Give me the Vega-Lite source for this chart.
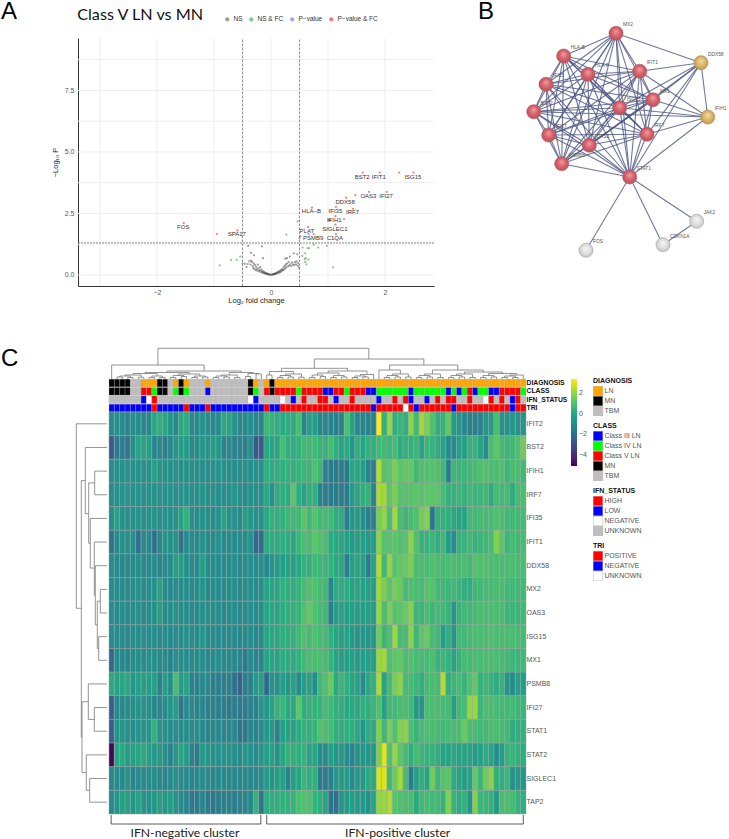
{"$schema":"https://vega.github.io/schema/vega-lite/v6.json","padding":0,"autosize":{"type":"pad"},"background":"white","spacing":42,"config":{"view":{"stroke":null},"font":"Liberation Sans"},
"datasets":{
"nodes":[{"id":"MX2","x":616,"y":32.3,"k":"r"},{"id":"HLA-B","x":563.7,"y":55,"k":"r"},{"id":"HLA-F","x":588,"y":73.3,"k":"r"},{"id":"IFIT1","x":639.7,"y":70.3,"k":"r"},{"id":"DDX58","x":701,"y":61.7,"k":"y"},{"id":"IFI35","x":546,"y":83.3,"k":"r"},{"id":"BST2","x":533.7,"y":110.7,"k":"r"},{"id":"ISG15","x":619.7,"y":106.7,"k":"r"},{"id":"MX1","x":653,"y":98.7,"k":"r"},{"id":"IFIH1","x":707.7,"y":116,"k":"y"},{"id":"IRF7","x":647,"y":133.3,"k":"r"},{"id":"IFI27","x":548.7,"y":134,"k":"r"},{"id":"OAS3","x":589.3,"y":144.3,"k":"r"},{"id":"PSMB8","x":561.7,"y":162.7,"k":"r"},{"id":"STAT1","x":629.7,"y":176,"k":"r"},{"id":"JAK2","x":696.7,"y":220.3,"k":"w"},{"id":"CDKN1A","x":663,"y":243.7,"k":"w"},{"id":"FOS","x":586,"y":249.3,"k":"w"}],
"edges":[{"s":"MX2","t":"HLA-B"},{"s":"MX2","t":"HLA-F"},{"s":"MX2","t":"IFIT1"},{"s":"MX2","t":"IFI35"},{"s":"MX2","t":"BST2"},{"s":"MX2","t":"ISG15"},{"s":"MX2","t":"MX1"},{"s":"MX2","t":"IRF7"},{"s":"MX2","t":"IFI27"},{"s":"MX2","t":"OAS3"},{"s":"MX2","t":"PSMB8"},{"s":"MX2","t":"STAT1"},{"s":"MX2","t":"DDX58"},{"s":"HLA-B","t":"HLA-F"},{"s":"HLA-B","t":"IFIT1"},{"s":"HLA-B","t":"IFI35"},{"s":"HLA-B","t":"BST2"},{"s":"HLA-B","t":"ISG15"},{"s":"HLA-B","t":"MX1"},{"s":"HLA-B","t":"IRF7"},{"s":"HLA-B","t":"IFI27"},{"s":"HLA-B","t":"OAS3"},{"s":"HLA-B","t":"PSMB8"},{"s":"HLA-B","t":"STAT1"},{"s":"HLA-F","t":"IFIT1"},{"s":"HLA-F","t":"IFI35"},{"s":"HLA-F","t":"BST2"},{"s":"HLA-F","t":"ISG15"},{"s":"HLA-F","t":"MX1"},{"s":"HLA-F","t":"IRF7"},{"s":"HLA-F","t":"IFI27"},{"s":"HLA-F","t":"OAS3"},{"s":"HLA-F","t":"PSMB8"},{"s":"HLA-F","t":"STAT1"},{"s":"IFIT1","t":"IFI35"},{"s":"IFIT1","t":"BST2"},{"s":"IFIT1","t":"ISG15"},{"s":"IFIT1","t":"MX1"},{"s":"IFIT1","t":"IRF7"},{"s":"IFIT1","t":"IFI27"},{"s":"IFIT1","t":"OAS3"},{"s":"IFIT1","t":"PSMB8"},{"s":"IFIT1","t":"STAT1"},{"s":"IFIT1","t":"DDX58"},{"s":"IFIT1","t":"IFIH1"},{"s":"IFI35","t":"BST2"},{"s":"IFI35","t":"ISG15"},{"s":"IFI35","t":"MX1"},{"s":"IFI35","t":"IRF7"},{"s":"IFI35","t":"IFI27"},{"s":"IFI35","t":"OAS3"},{"s":"IFI35","t":"PSMB8"},{"s":"IFI35","t":"STAT1"},{"s":"BST2","t":"ISG15"},{"s":"BST2","t":"MX1"},{"s":"BST2","t":"IRF7"},{"s":"BST2","t":"IFI27"},{"s":"BST2","t":"OAS3"},{"s":"BST2","t":"PSMB8"},{"s":"BST2","t":"STAT1"},{"s":"BST2","t":"IFIH1"},{"s":"ISG15","t":"MX1"},{"s":"ISG15","t":"IRF7"},{"s":"ISG15","t":"IFI27"},{"s":"ISG15","t":"OAS3"},{"s":"ISG15","t":"PSMB8"},{"s":"ISG15","t":"STAT1"},{"s":"ISG15","t":"DDX58"},{"s":"ISG15","t":"IFIH1"},{"s":"MX1","t":"IRF7"},{"s":"MX1","t":"IFI27"},{"s":"MX1","t":"OAS3"},{"s":"MX1","t":"PSMB8"},{"s":"MX1","t":"STAT1"},{"s":"MX1","t":"DDX58"},{"s":"MX1","t":"IFIH1"},{"s":"IRF7","t":"IFI27"},{"s":"IRF7","t":"OAS3"},{"s":"IRF7","t":"PSMB8"},{"s":"IRF7","t":"STAT1"},{"s":"IRF7","t":"DDX58"},{"s":"IRF7","t":"IFIH1"},{"s":"IFI27","t":"OAS3"},{"s":"IFI27","t":"PSMB8"},{"s":"IFI27","t":"STAT1"},{"s":"OAS3","t":"PSMB8"},{"s":"OAS3","t":"STAT1"},{"s":"OAS3","t":"DDX58"},{"s":"PSMB8","t":"STAT1"},{"s":"STAT1","t":"DDX58"},{"s":"STAT1","t":"IFIH1"},{"s":"DDX58","t":"IFIH1"},{"s":"STAT1","t":"JAK2"},{"s":"STAT1","t":"CDKN1A"},{"s":"STAT1","t":"FOS"},{"s":"JAK2","t":"CDKN1A"}],
"genes":[{"t":"FOS","x":-1.54,"y":1.93},{"t":"SPA17","x":-0.6,"y":1.65},{"t":"BST2","x":1.6,"y":3.99},{"t":"IFIT1","x":1.89,"y":3.99},{"t":"ISG15","x":2.49,"y":3.99},{"t":"OAS3","x":1.71,"y":3.22},{"t":"IFI27","x":2.02,"y":3.22},{"t":"DDX58","x":1.3,"y":2.97},{"t":"HLA−B","x":0.71,"y":2.59},{"t":"IFI35","x":1.13,"y":2.61},{"t":"IRF7","x":1.43,"y":2.54},{"t":"IFIH1","x":1.11,"y":2.23},{"t":"SIGLEC1","x":1.12,"y":1.88},{"t":"PLAT","x":0.63,"y":1.77},{"t":"PSMB9","x":0.74,"y":1.5},{"t":"C1QA","x":1.12,"y":1.5}],
"pts":[{"x":-1.53,"y":2.11,"k":"P−value & FC"},{"x":-0.95,"y":1.66,"k":"P−value & FC"},{"x":-0.59,"y":1.81,"k":"P−value & FC"},{"x":1.61,"y":4.16,"k":"P−value & FC"},{"x":1.91,"y":4.16,"k":"P−value & FC"},{"x":2.25,"y":4.16,"k":"P−value & FC"},{"x":2.5,"y":4.16,"k":"P−value & FC"},{"x":1.72,"y":3.38,"k":"P−value & FC"},{"x":2.03,"y":3.38,"k":"P−value & FC"},{"x":1.48,"y":3.24,"k":"P−value & FC"},{"x":1.32,"y":3.14,"k":"P−value & FC"},{"x":1.14,"y":2.77,"k":"P−value & FC"},{"x":0.72,"y":2.74,"k":"P−value & FC"},{"x":1.44,"y":2.69,"k":"P−value & FC"},{"x":1.13,"y":2.39,"k":"P−value & FC"},{"x":1.28,"y":2.27,"k":"P−value & FC"},{"x":1.01,"y":2.23,"k":"P−value & FC"},{"x":1.04,"y":2.23,"k":"P−value & FC"},{"x":1.13,"y":2.04,"k":"P−value & FC"},{"x":0.65,"y":1.95,"k":"P−value & FC"},{"x":0.66,"y":1.66,"k":"P−value & FC"},{"x":0.75,"y":1.66,"k":"P−value & FC"},{"x":1.14,"y":1.66,"k":"P−value & FC"},{"x":0.515,"y":1.58,"k":"P−value & FC"},
{"x":0.47,"y":2.18,"k":"P−value"},{"x":0.27,"y":1.64,"k":"P−value"},{"x":0.5,"y":1.5,"k":"P−value"},
{"x":0.555,"y":1.11,"k":"NS & FC"},{"x":0.64,"y":1.09,"k":"NS & FC"},{"x":0.67,"y":1.08,"k":"NS & FC"},{"x":0.75,"y":1.23,"k":"NS & FC"},{"x":0.83,"y":1.11,"k":"NS & FC"},{"x":0.98,"y":1.18,"k":"NS & FC"},{"x":0.55,"y":0.77,"k":"NS & FC"},{"x":0.6,"y":0.88,"k":"NS & FC"},{"x":0.59,"y":0.64,"k":"NS & FC"},{"x":0.61,"y":0.68,"k":"NS & FC"},{"x":0.66,"y":0.62,"k":"NS & FC"},{"x":0.6,"y":0.53,"k":"NS & FC"},{"x":0.62,"y":0.43,"k":"NS & FC"},{"x":1.09,"y":0.31,"k":"NS & FC"},{"x":-0.9,"y":0.39,"k":"NS & FC"},{"x":-0.7,"y":0.61,"k":"NS & FC"},{"x":-0.6,"y":0.61,"k":"NS & FC"},{"x":-0.54,"y":0.74,"k":"NS & FC"},{"x":-0.5,"y":0.47,"k":"NS & FC"},
{"x":-0.4,"y":1.18,"k":"NS"},{"x":-0.16,"y":1.16,"k":"NS"},{"x":-0.35,"y":0.9,"k":"NS"},{"x":-0.3,"y":0.8,"k":"NS"},{"x":-0.14,"y":0.68,"k":"NS"},{"x":0.33,"y":0.74,"k":"NS"},{"x":0.4,"y":0.88,"k":"NS"},{"x":0.46,"y":0.84,"k":"NS"},{"x":0.25,"y":0.66,"k":"NS"},{"x":0.28,"y":0.68,"k":"NS"},{"x":-0.46,"y":0.45,"k":"NS"},{"x":-0.43,"y":0.32,"k":"NS"},{"x":-0.41,"y":0.44,"k":"NS"},{"x":-0.38,"y":0.55,"k":"NS"},{"x":-0.36,"y":0.42,"k":"NS"},{"x":-0.35,"y":0.58,"k":"NS"},{"x":-0.33,"y":0.52,"k":"NS"},{"x":-0.32,"y":0.36,"k":"NS"},{"x":-0.31,"y":0.28,"k":"NS"},{"x":-0.3,"y":0.46,"k":"NS"},{"x":-0.29,"y":0.25,"k":"NS"},{"x":-0.28,"y":0.4,"k":"NS"},{"x":-0.27,"y":0.19,"k":"NS"},{"x":-0.26,"y":0.33,"k":"NS"},{"x":-0.25,"y":0.24,"k":"NS"},{"x":-0.24,"y":0.17,"k":"NS"},{"x":-0.23,"y":0.42,"k":"NS"},{"x":-0.22,"y":0.27,"k":"NS"},{"x":-0.21,"y":0.14,"k":"NS"},{"x":-0.2,"y":0.2,"k":"NS"},{"x":-0.19,"y":0.32,"k":"NS"},{"x":-0.18,"y":0.13,"k":"NS"},{"x":-0.17,"y":0.22,"k":"NS"},{"x":-0.16,"y":0.1,"k":"NS"},{"x":-0.15,"y":0.16,"k":"NS"},{"x":-0.14,"y":0.09,"k":"NS"},{"x":-0.13,"y":0.13,"k":"NS"},{"x":-0.12,"y":0.07,"k":"NS"},{"x":-0.11,"y":0.1,"k":"NS"},{"x":-0.1,"y":0.06,"k":"NS"},{"x":-0.09,"y":0.05,"k":"NS"},{"x":-0.08,"y":0.07,"k":"NS"},{"x":-0.07,"y":0.04,"k":"NS"},{"x":-0.06,"y":0.03,"k":"NS"},{"x":-0.05,"y":0.04,"k":"NS"},{"x":-0.04,"y":0.02,"k":"NS"},{"x":-0.03,"y":0.01,"k":"NS"},{"x":-0.02,"y":0.01,"k":"NS"},{"x":0,"y":0.01,"k":"NS"},{"x":0.02,"y":0.01,"k":"NS"},{"x":0.03,"y":0.02,"k":"NS"},{"x":0.04,"y":0.03,"k":"NS"},{"x":0.05,"y":0.02,"k":"NS"},{"x":0.06,"y":0.04,"k":"NS"},{"x":0.07,"y":0.05,"k":"NS"},{"x":0.08,"y":0.04,"k":"NS"},{"x":0.09,"y":0.07,"k":"NS"},{"x":0.1,"y":0.06,"k":"NS"},{"x":0.11,"y":0.09,"k":"NS"},{"x":0.12,"y":0.12,"k":"NS"},{"x":0.13,"y":0.08,"k":"NS"},{"x":0.14,"y":0.14,"k":"NS"},{"x":0.15,"y":0.1,"k":"NS"},{"x":0.16,"y":0.18,"k":"NS"},{"x":0.17,"y":0.12,"k":"NS"},{"x":0.18,"y":0.21,"k":"NS"},{"x":0.19,"y":0.16,"k":"NS"},{"x":0.2,"y":0.24,"k":"NS"},{"x":0.21,"y":0.19,"k":"NS"},{"x":0.22,"y":0.31,"k":"NS"},{"x":0.23,"y":0.22,"k":"NS"},{"x":0.24,"y":0.37,"k":"NS"},{"x":0.25,"y":0.27,"k":"NS"},{"x":0.26,"y":0.42,"k":"NS"},{"x":0.27,"y":0.31,"k":"NS"},{"x":0.28,"y":0.46,"k":"NS"},{"x":0.3,"y":0.35,"k":"NS"},{"x":0.31,"y":0.52,"k":"NS"},{"x":0.32,"y":0.38,"k":"NS"},{"x":0.34,"y":0.43,"k":"NS"},{"x":0.36,"y":0.36,"k":"NS"},{"x":0.37,"y":0.5,"k":"NS"},{"x":0.39,"y":0.42,"k":"NS"},{"x":0.41,"y":0.4,"k":"NS"},{"x":0.42,"y":0.52,"k":"NS"},{"x":0.44,"y":0.43,"k":"NS"},{"x":0.45,"y":0.55,"k":"NS"},{"x":0.47,"y":0.38,"k":"NS"},{"x":0.48,"y":0.48,"k":"NS"},{"x":0.49,"y":0.3,"k":"NS"}],
"top":[{"a":1.5,"b":2.5,"h":2,"ha":0,"hb":0},{"a":3.5,"b":4.5,"h":1.5,"ha":0,"hb":0},{"a":2,"b":4,"h":3,"ha":2,"hb":1.5},{"a":5.5,"b":6.5,"h":1.8,"ha":0,"hb":0},{"a":3,"b":6,"h":4,"ha":3,"hb":1.8},{"a":7.5,"b":8.5,"h":1.5,"ha":0,"hb":0},{"a":9.5,"b":10.5,"h":1.5,"ha":0,"hb":0},{"a":8,"b":10,"h":3,"ha":1.5,"hb":1.5},{"a":4.5,"b":9,"h":5.5,"ha":4,"hb":3},{"a":11.5,"b":12.5,"h":1.5,"ha":0,"hb":0},{"a":13.5,"b":14.5,"h":2.5,"ha":0,"hb":0},{"a":12,"b":14,"h":3.5,"ha":1.5,"hb":2.5},{"a":15.5,"b":16.5,"h":1.5,"ha":0,"hb":0},{"a":17.5,"b":18.5,"h":2,"ha":0,"hb":0},{"a":16,"b":18,"h":3,"ha":1.5,"hb":2},{"a":13,"b":17,"h":5,"ha":3.5,"hb":3},{"a":6.75,"b":15,"h":6.5,"ha":5.5,"hb":5},{"a":19.5,"b":20.5,"h":1.5,"ha":0,"hb":0},{"a":21.5,"b":22.5,"h":2,"ha":0,"hb":0},{"a":20,"b":22,"h":3,"ha":1.5,"hb":2},{"a":23.5,"b":24.5,"h":1.5,"ha":0,"hb":0},{"a":21,"b":24,"h":4,"ha":3,"hb":1.5},{"a":25.5,"b":26.5,"h":2.5,"ha":0,"hb":0},{"a":27.5,"b":28.5,"h":5,"ha":0,"hb":0},{"a":26,"b":28,"h":5.5,"ha":2.5,"hb":5},{"a":22.5,"b":27,"h":6.5,"ha":4,"hb":5.5},{"a":10.9,"b":24.75,"h":8,"ha":6.5,"hb":6.5},{"a":0.5,"b":17.8,"h":14,"ha":0,"hb":8},{"a":29.5,"b":30.5,"h":4,"ha":0,"hb":0},{"a":31.5,"b":32.5,"h":1.5,"ha":0,"hb":0},{"a":33.5,"b":34.5,"h":2,"ha":0,"hb":0},{"a":32,"b":34,"h":3.5,"ha":1.5,"hb":2},{"a":35.5,"b":36.5,"h":1.8,"ha":0,"hb":0},{"a":33,"b":36,"h":5,"ha":3.5,"hb":1.8},{"a":30,"b":34.5,"h":7.5,"ha":4,"hb":5},{"a":37.5,"b":38.5,"h":1.5,"ha":0,"hb":0},{"a":39.5,"b":40.5,"h":2.5,"ha":0,"hb":0},{"a":38,"b":40,"h":4,"ha":1.5,"hb":2.5},{"a":41.5,"b":42.5,"h":1.5,"ha":0,"hb":0},{"a":43.5,"b":44.5,"h":2,"ha":0,"hb":0},{"a":42,"b":44,"h":3.5,"ha":1.5,"hb":2},{"a":39,"b":43,"h":6,"ha":4,"hb":3.5},{"a":45.5,"b":46.5,"h":1.5,"ha":0,"hb":0},{"a":47.5,"b":48.5,"h":2,"ha":0,"hb":0},{"a":46,"b":48,"h":3,"ha":1.5,"hb":2},{"a":47,"b":49.5,"h":4.5,"ha":3,"hb":0},{"a":41,"b":48.25,"h":8,"ha":6,"hb":4.5},{"a":32.25,"b":44.6,"h":10.7,"ha":7.5,"hb":8},{"a":51.5,"b":52.5,"h":1.5,"ha":0,"hb":0},{"a":53.5,"b":54.5,"h":2,"ha":0,"hb":0},{"a":52,"b":54,"h":3.5,"ha":1.5,"hb":2},{"a":55.5,"b":56.5,"h":2,"ha":0,"hb":0},{"a":53,"b":56,"h":5,"ha":3.5,"hb":2},{"a":50.5,"b":54.5,"h":9,"ha":0,"hb":5},{"a":57.5,"b":58.5,"h":1.5,"ha":0,"hb":0},{"a":59.5,"b":60.5,"h":2,"ha":0,"hb":0},{"a":58,"b":60,"h":3.5,"ha":1.5,"hb":2},{"a":61.5,"b":62.5,"h":1.5,"ha":0,"hb":0},{"a":59,"b":62,"h":5,"ha":3.5,"hb":1.5},{"a":63.5,"b":64.5,"h":1.5,"ha":0,"hb":0},{"a":65.5,"b":66.5,"h":2,"ha":0,"hb":0},{"a":64,"b":66,"h":3.5,"ha":1.5,"hb":2},{"a":67.5,"b":68.5,"h":1.5,"ha":0,"hb":0},{"a":65,"b":68,"h":5,"ha":3.5,"hb":1.5},{"a":69.5,"b":70.5,"h":1.5,"ha":0,"hb":0},{"a":71.5,"b":72.5,"h":2,"ha":0,"hb":0},{"a":70,"b":72,"h":3.5,"ha":1.5,"hb":2},{"a":73.5,"b":74.5,"h":1.5,"ha":0,"hb":0},{"a":75.5,"b":76.5,"h":1.5,"ha":0,"hb":0},{"a":74,"b":76,"h":3,"ha":1.5,"hb":1.5},{"a":75,"b":77.5,"h":4,"ha":3,"hb":0},{"a":71,"b":76.25,"h":5.5,"ha":3.5,"hb":4},{"a":66.5,"b":73.6,"h":7,"ha":5,"hb":5.5},{"a":60.5,"b":70,"h":9,"ha":5,"hb":7},{"a":52.5,"b":65.25,"h":14,"ha":9,"hb":9},{"a":38.4,"b":58.9,"h":20,"ha":10.7,"hb":14},{"a":9.15,"b":48.6,"h":30.7,"ha":14,"hb":20}],
"left":[{"a":7.5,"b":8.5,"d":6.7,"da":0,"db":0},{"a":9.5,"b":10.5,"d":8.3,"da":0,"db":0},{"a":8,"b":10,"d":9.7,"da":6.7,"db":8.3},{"a":6.5,"b":9,"d":11.7,"da":0,"db":9.7},{"a":5.5,"b":7.75,"d":12.7,"da":0,"db":11.7},{"a":4.5,"b":6.6,"d":16.7,"da":0,"db":12.7},{"a":2.5,"b":3.5,"d":12.3,"da":0,"db":0},{"a":3,"b":5.55,"d":18.3,"da":12.3,"db":16.7},{"a":1.5,"b":4.3,"d":21.7,"da":0,"db":18.3},{"a":12.5,"b":13.5,"d":12.7,"da":0,"db":0},{"a":11.5,"b":13,"d":18.7,"da":0,"db":12.7},{"a":15.5,"b":16.5,"d":17.3,"da":0,"db":0},{"a":14.5,"b":16,"d":20.7,"da":0,"db":17.3},{"a":12.25,"b":15.25,"d":25,"da":18.7,"db":20.7},{"a":2.9,"b":13.75,"d":25.7,"da":21.7,"db":25},{"a":0.5,"b":8.3,"d":30.7,"da":0,"db":25.7}],
"samples":[{"c":0,"D":"MN","C":"MN","I":"UNKNOWN","T":"NEGATIVE"},{"c":1,"D":"MN","C":"MN","I":"UNKNOWN","T":"NEGATIVE"},{"c":2,"D":"MN","C":"MN","I":"UNKNOWN","T":"NEGATIVE"},{"c":3,"D":"MN","C":"MN","I":"UNKNOWN","T":"NEGATIVE"},{"c":4,"D":"TBM","C":"TBM","I":"UNKNOWN","T":"NEGATIVE"},{"c":5,"D":"TBM","C":"TBM","I":"UNKNOWN","T":"NEGATIVE"},{"c":6,"D":"LN","C":"Class V LN","I":"LOW","T":"NEGATIVE"},{"c":7,"D":"LN","C":"Class V LN","I":"NEGATIVE","T":"NEGATIVE"},{"c":8,"D":"LN","C":"Class IV LN","I":"HIGH","T":"POSITIVE"},{"c":9,"D":"MN","C":"MN","I":"UNKNOWN","T":"NEGATIVE"},{"c":10,"D":"MN","C":"MN","I":"UNKNOWN","T":"NEGATIVE"},{"c":11,"D":"TBM","C":"TBM","I":"UNKNOWN","T":"NEGATIVE"},{"c":12,"D":"LN","C":"Class IV LN","I":"UNKNOWN","T":"NEGATIVE"},{"c":13,"D":"MN","C":"MN","I":"UNKNOWN","T":"NEGATIVE"},{"c":14,"D":"LN","C":"Class IV LN","I":"UNKNOWN","T":"POSITIVE"},{"c":15,"D":"TBM","C":"TBM","I":"UNKNOWN","T":"NEGATIVE"},{"c":16,"D":"TBM","C":"TBM","I":"UNKNOWN","T":"NEGATIVE"},{"c":17,"D":"TBM","C":"TBM","I":"UNKNOWN","T":"NEGATIVE"},{"c":18,"D":"LN","C":"Class III LN","I":"UNKNOWN","T":"POSITIVE"},{"c":19,"D":"TBM","C":"TBM","I":"UNKNOWN","T":"NEGATIVE"},{"c":20,"D":"TBM","C":"TBM","I":"UNKNOWN","T":"NEGATIVE"},{"c":21,"D":"TBM","C":"TBM","I":"UNKNOWN","T":"NEGATIVE"},{"c":22,"D":"TBM","C":"TBM","I":"UNKNOWN","T":"NEGATIVE"},{"c":23,"D":"TBM","C":"TBM","I":"UNKNOWN","T":"NEGATIVE"},{"c":24,"D":"TBM","C":"TBM","I":"UNKNOWN","T":"NEGATIVE"},{"c":25,"D":"TBM","C":"TBM","I":"UNKNOWN","T":"NEGATIVE"},{"c":26,"D":"MN","C":"MN","I":"NEGATIVE","T":"NEGATIVE"},{"c":27,"D":"LN","C":"Class IV LN","I":"LOW","T":"NEGATIVE"},{"c":28,"D":"TBM","C":"TBM","I":"UNKNOWN","T":"NEGATIVE"},{"c":29,"D":"LN","C":"Class V LN","I":"UNKNOWN","T":"POSITIVE"},{"c":30,"D":"MN","C":"MN","I":"UNKNOWN","T":"NEGATIVE"},{"c":31,"D":"LN","C":"Class V LN","I":"UNKNOWN","T":"NEGATIVE"},{"c":32,"D":"LN","C":"Class V LN","I":"NEGATIVE","T":"POSITIVE"},{"c":33,"D":"LN","C":"Class V LN","I":"UNKNOWN","T":"POSITIVE"},{"c":34,"D":"LN","C":"Class V LN","I":"LOW","T":"POSITIVE"},{"c":35,"D":"LN","C":"Class IV LN","I":"UNKNOWN","T":"POSITIVE"},{"c":36,"D":"LN","C":"Class V LN","I":"HIGH","T":"POSITIVE"},{"c":37,"D":"LN","C":"Class V LN","I":"UNKNOWN","T":"POSITIVE"},{"c":38,"D":"LN","C":"Class V LN","I":"UNKNOWN","T":"POSITIVE"},{"c":39,"D":"LN","C":"Class V LN","I":"HIGH","T":"POSITIVE"},{"c":40,"D":"LN","C":"Class III LN","I":"HIGH","T":"POSITIVE"},{"c":41,"D":"LN","C":"Class III LN","I":"UNKNOWN","T":"POSITIVE"},{"c":42,"D":"LN","C":"Class V LN","I":"LOW","T":"POSITIVE"},{"c":43,"D":"LN","C":"Class V LN","I":"UNKNOWN","T":"POSITIVE"},{"c":44,"D":"LN","C":"Class IV LN","I":"UNKNOWN","T":"POSITIVE"},{"c":45,"D":"LN","C":"Class V LN","I":"HIGH","T":"POSITIVE"},{"c":46,"D":"LN","C":"Class V LN","I":"UNKNOWN","T":"POSITIVE"},{"c":47,"D":"LN","C":"Class V LN","I":"UNKNOWN","T":"POSITIVE"},{"c":48,"D":"LN","C":"Class III LN","I":"UNKNOWN","T":"POSITIVE"},{"c":49,"D":"LN","C":"Class III LN","I":"UNKNOWN","T":"NEGATIVE"},{"c":50,"D":"LN","C":"Class IV LN","I":"LOW","T":"POSITIVE"},{"c":51,"D":"LN","C":"Class IV LN","I":"UNKNOWN","T":"POSITIVE"},{"c":52,"D":"LN","C":"Class IV LN","I":"UNKNOWN","T":"POSITIVE"},{"c":53,"D":"LN","C":"Class IV LN","I":"HIGH","T":"POSITIVE"},{"c":54,"D":"LN","C":"Class IV LN","I":"UNKNOWN","T":"POSITIVE"},{"c":55,"D":"LN","C":"Class IV LN","I":"HIGH","T":"UNKNOWN"},{"c":56,"D":"LN","C":"Class III LN","I":"LOW","T":"POSITIVE"},{"c":57,"D":"LN","C":"Class IV LN","I":"UNKNOWN","T":"NEGATIVE"},{"c":58,"D":"LN","C":"Class IV LN","I":"UNKNOWN","T":"POSITIVE"},{"c":59,"D":"LN","C":"Class IV LN","I":"LOW","T":"POSITIVE"},{"c":60,"D":"LN","C":"Class IV LN","I":"UNKNOWN","T":"POSITIVE"},{"c":61,"D":"LN","C":"Class IV LN","I":"HIGH","T":"POSITIVE"},{"c":62,"D":"LN","C":"Class IV LN","I":"UNKNOWN","T":"POSITIVE"},{"c":63,"D":"LN","C":"Class III LN","I":"HIGH","T":"POSITIVE"},{"c":64,"D":"LN","C":"Class IV LN","I":"HIGH","T":"NEGATIVE"},{"c":65,"D":"LN","C":"Class III LN","I":"UNKNOWN","T":"POSITIVE"},{"c":66,"D":"LN","C":"Class IV LN","I":"UNKNOWN","T":"POSITIVE"},{"c":67,"D":"LN","C":"Class V LN","I":"HIGH","T":"POSITIVE"},{"c":68,"D":"LN","C":"Class III LN","I":"UNKNOWN","T":"POSITIVE"},{"c":69,"D":"LN","C":"Class IV LN","I":"UNKNOWN","T":"POSITIVE"},{"c":70,"D":"LN","C":"Class IV LN","I":"NEGATIVE","T":"POSITIVE"},{"c":71,"D":"LN","C":"Class III LN","I":"HIGH","T":"POSITIVE"},{"c":72,"D":"LN","C":"Class III LN","I":"UNKNOWN","T":"POSITIVE"},{"c":73,"D":"LN","C":"Class V LN","I":"HIGH","T":"POSITIVE"},{"c":74,"D":"LN","C":"Class V LN","I":"UNKNOWN","T":"POSITIVE"},{"c":75,"D":"LN","C":"Class V LN","I":"LOW","T":"NEGATIVE"},{"c":76,"D":"LN","C":"Class V LN","I":"HIGH","T":"POSITIVE"},{"c":77,"D":"LN","C":"Class IV LN","I":"UNKNOWN","T":"POSITIVE"}],
"heat":[
{"g":"IFIT2","c":0,"v":-1},{"g":"IFIT2","c":1,"v":-0.8},{"g":"IFIT2","c":2,"v":-1},{"g":"IFIT2","c":3,"v":-1.1},{"g":"IFIT2","c":4,"v":-0.9},{"g":"IFIT2","c":5,"v":-0.9},{"g":"IFIT2","c":6,"v":-1.1},{"g":"IFIT2","c":7,"v":-1.1},{"g":"IFIT2","c":8,"v":0.1},{"g":"IFIT2","c":9,"v":0.3},{"g":"IFIT2","c":10,"v":0.1},{"g":"IFIT2","c":11,"v":-0.6},{"g":"IFIT2","c":12,"v":-1},{"g":"IFIT2","c":13,"v":0.1},{"g":"IFIT2","c":14,"v":0.2},{"g":"IFIT2","c":15,"v":-1},{"g":"IFIT2","c":16,"v":-1},{"g":"IFIT2","c":17,"v":-0.7},{"g":"IFIT2","c":18,"v":-0.8},{"g":"IFIT2","c":19,"v":-1},{"g":"IFIT2","c":20,"v":-1},{"g":"IFIT2","c":21,"v":0.1},{"g":"IFIT2","c":22,"v":0},{"g":"IFIT2","c":23,"v":-0.8},{"g":"IFIT2","c":24,"v":-1},{"g":"IFIT2","c":25,"v":-1},{"g":"IFIT2","c":26,"v":-0.9},{"g":"IFIT2","c":27,"v":-1.1},{"g":"IFIT2","c":28,"v":-1.1},{"g":"IFIT2","c":29,"v":0.7},{"g":"IFIT2","c":30,"v":0.5},{"g":"IFIT2","c":31,"v":0.3},{"g":"IFIT2","c":32,"v":0.1},{"g":"IFIT2","c":33,"v":0.2},{"g":"IFIT2","c":34,"v":0.2},{"g":"IFIT2","c":35,"v":0.9},{"g":"IFIT2","c":36,"v":-1.2},{"g":"IFIT2","c":37,"v":-0.2},{"g":"IFIT2","c":38,"v":-0.3},{"g":"IFIT2","c":39,"v":-1.2},{"g":"IFIT2","c":40,"v":-1.1},{"g":"IFIT2","c":41,"v":-1.3},{"g":"IFIT2","c":42,"v":-1.3},{"g":"IFIT2","c":43,"v":-1.3},{"g":"IFIT2","c":44,"v":1},{"g":"IFIT2","c":45,"v":-0.1},{"g":"IFIT2","c":46,"v":-1.1},{"g":"IFIT2","c":47,"v":-1.2},{"g":"IFIT2","c":48,"v":-1.3},{"g":"IFIT2","c":49,"v":-1.3},{"g":"IFIT2","c":50,"v":3.4},{"g":"IFIT2","c":51,"v":0.4},{"g":"IFIT2","c":52,"v":2},{"g":"IFIT2","c":53,"v":0.3},{"g":"IFIT2","c":54,"v":0.6},{"g":"IFIT2","c":55,"v":0.3},{"g":"IFIT2","c":56,"v":1.9},{"g":"IFIT2","c":57,"v":0.7},{"g":"IFIT2","c":58,"v":2.2},{"g":"IFIT2","c":59,"v":1.7},{"g":"IFIT2","c":60,"v":1},{"g":"IFIT2","c":61,"v":0.3},{"g":"IFIT2","c":62,"v":0.5},{"g":"IFIT2","c":63,"v":1.3},{"g":"IFIT2","c":64,"v":-0.4},{"g":"IFIT2","c":65,"v":-0.6},{"g":"IFIT2","c":66,"v":-1.2},{"g":"IFIT2","c":67,"v":-1.3},{"g":"IFIT2","c":68,"v":-1.4},{"g":"IFIT2","c":69,"v":-1.4},{"g":"IFIT2","c":70,"v":-0.5},{"g":"IFIT2","c":71,"v":-0.4},{"g":"IFIT2","c":72,"v":0.9},{"g":"IFIT2","c":73,"v":-0.8},{"g":"IFIT2","c":74,"v":-0.7},{"g":"IFIT2","c":75,"v":-0.5},{"g":"IFIT2","c":76,"v":-0.7},{"g":"IFIT2","c":77,"v":-0.6},
{"g":"BST2","c":0,"v":-2.6},{"g":"BST2","c":1,"v":-1.5},{"g":"BST2","c":2,"v":-1.5},{"g":"BST2","c":3,"v":-1.8},{"g":"BST2","c":4,"v":-0.9},{"g":"BST2","c":5,"v":-0.1},{"g":"BST2","c":6,"v":-0.1},{"g":"BST2","c":7,"v":-0.2},{"g":"BST2","c":8,"v":-1.2},{"g":"BST2","c":9,"v":-1},{"g":"BST2","c":10,"v":-1.4},{"g":"BST2","c":11,"v":-1.1},{"g":"BST2","c":12,"v":-0.5},{"g":"BST2","c":13,"v":-0.3},{"g":"BST2","c":14,"v":-0.4},{"g":"BST2","c":15,"v":-1},{"g":"BST2","c":16,"v":-0.9},{"g":"BST2","c":17,"v":-0.5},{"g":"BST2","c":18,"v":-0.6},{"g":"BST2","c":19,"v":-0.3},{"g":"BST2","c":20,"v":-0.5},{"g":"BST2","c":21,"v":-1.2},{"g":"BST2","c":22,"v":-1},{"g":"BST2","c":23,"v":-1.4},{"g":"BST2","c":24,"v":-1.2},{"g":"BST2","c":25,"v":-1.4},{"g":"BST2","c":26,"v":-0.9},{"g":"BST2","c":27,"v":-2.7},{"g":"BST2","c":28,"v":-2.7},{"g":"BST2","c":29,"v":0.1},{"g":"BST2","c":30,"v":0},{"g":"BST2","c":31,"v":0},{"g":"BST2","c":32,"v":0.8},{"g":"BST2","c":33,"v":0.3},{"g":"BST2","c":34,"v":0.3},{"g":"BST2","c":35,"v":0.4},{"g":"BST2","c":36,"v":0.7},{"g":"BST2","c":37,"v":0.7},{"g":"BST2","c":38,"v":0.7},{"g":"BST2","c":39,"v":0.5},{"g":"BST2","c":40,"v":0.5},{"g":"BST2","c":41,"v":0.8},{"g":"BST2","c":42,"v":0.3},{"g":"BST2","c":43,"v":-0.1},{"g":"BST2","c":44,"v":0.1},{"g":"BST2","c":45,"v":-0.6},{"g":"BST2","c":46,"v":0.3},{"g":"BST2","c":47,"v":0},{"g":"BST2","c":48,"v":0.4},{"g":"BST2","c":49,"v":0.4},{"g":"BST2","c":50,"v":0.7},{"g":"BST2","c":51,"v":0.7},{"g":"BST2","c":52,"v":0.6},{"g":"BST2","c":53,"v":0.8},{"g":"BST2","c":54,"v":0.2},{"g":"BST2","c":55,"v":0.4},{"g":"BST2","c":56,"v":0.4},{"g":"BST2","c":57,"v":0.6},{"g":"BST2","c":58,"v":-0.1},{"g":"BST2","c":59,"v":0.6},{"g":"BST2","c":60,"v":0.5},{"g":"BST2","c":61,"v":0.2},{"g":"BST2","c":62,"v":-0.1},{"g":"BST2","c":63,"v":-1},{"g":"BST2","c":64,"v":-0.9},{"g":"BST2","c":65,"v":-0.2},{"g":"BST2","c":66,"v":-0.3},{"g":"BST2","c":67,"v":0.5},{"g":"BST2","c":68,"v":0.5},{"g":"BST2","c":69,"v":-0.1},{"g":"BST2","c":70,"v":-0.9},{"g":"BST2","c":71,"v":0.8},{"g":"BST2","c":72,"v":1.2},{"g":"BST2","c":73,"v":0.7},{"g":"BST2","c":74,"v":0.6},{"g":"BST2","c":75,"v":0.7},{"g":"BST2","c":76,"v":1},{"g":"BST2","c":77,"v":1.5},
{"g":"IFIH1","c":0,"v":-0.9},{"g":"IFIH1","c":1,"v":-0.8},{"g":"IFIH1","c":2,"v":-0.8},{"g":"IFIH1","c":3,"v":-0.7},{"g":"IFIH1","c":4,"v":-0.8},{"g":"IFIH1","c":5,"v":-0.8},{"g":"IFIH1","c":6,"v":-0.7},{"g":"IFIH1","c":7,"v":-0.8},{"g":"IFIH1","c":8,"v":-0.2},{"g":"IFIH1","c":9,"v":-0.5},{"g":"IFIH1","c":10,"v":-0.7},{"g":"IFIH1","c":11,"v":-0.8},{"g":"IFIH1","c":12,"v":-0.7},{"g":"IFIH1","c":13,"v":-0.8},{"g":"IFIH1","c":14,"v":-0.7},{"g":"IFIH1","c":15,"v":-0.8},{"g":"IFIH1","c":16,"v":-0.8},{"g":"IFIH1","c":17,"v":-0.9},{"g":"IFIH1","c":18,"v":-0.8},{"g":"IFIH1","c":19,"v":-0.8},{"g":"IFIH1","c":20,"v":-0.8},{"g":"IFIH1","c":21,"v":-0.7},{"g":"IFIH1","c":22,"v":-0.8},{"g":"IFIH1","c":23,"v":-0.9},{"g":"IFIH1","c":24,"v":-0.8},{"g":"IFIH1","c":25,"v":-0.8},{"g":"IFIH1","c":26,"v":-0.9},{"g":"IFIH1","c":27,"v":-0.7},{"g":"IFIH1","c":28,"v":-0.8},{"g":"IFIH1","c":29,"v":0.3},{"g":"IFIH1","c":30,"v":0.2},{"g":"IFIH1","c":31,"v":0.3},{"g":"IFIH1","c":32,"v":0.3},{"g":"IFIH1","c":33,"v":0.4},{"g":"IFIH1","c":34,"v":0.4},{"g":"IFIH1","c":35,"v":0.5},{"g":"IFIH1","c":36,"v":0.6},{"g":"IFIH1","c":37,"v":0.6},{"g":"IFIH1","c":38,"v":1},{"g":"IFIH1","c":39,"v":0.6},{"g":"IFIH1","c":40,"v":-1.4},{"g":"IFIH1","c":41,"v":-1.5},{"g":"IFIH1","c":42,"v":-1.5},{"g":"IFIH1","c":43,"v":-1.5},{"g":"IFIH1","c":44,"v":-1.6},{"g":"IFIH1","c":45,"v":0},{"g":"IFIH1","c":46,"v":0},{"g":"IFIH1","c":47,"v":-0.2},{"g":"IFIH1","c":48,"v":-1.3},{"g":"IFIH1","c":49,"v":-1.4},{"g":"IFIH1","c":50,"v":2.4},{"g":"IFIH1","c":51,"v":1.1},{"g":"IFIH1","c":52,"v":1.2},{"g":"IFIH1","c":53,"v":1.6},{"g":"IFIH1","c":54,"v":1.2},{"g":"IFIH1","c":55,"v":1.3},{"g":"IFIH1","c":56,"v":1.3},{"g":"IFIH1","c":57,"v":0.7},{"g":"IFIH1","c":58,"v":1},{"g":"IFIH1","c":59,"v":1},{"g":"IFIH1","c":60,"v":1.1},{"g":"IFIH1","c":61,"v":1},{"g":"IFIH1","c":62,"v":0.7},{"g":"IFIH1","c":63,"v":-1.5},{"g":"IFIH1","c":64,"v":0.6},{"g":"IFIH1","c":65,"v":0.6},{"g":"IFIH1","c":66,"v":0.6},{"g":"IFIH1","c":67,"v":0.7},{"g":"IFIH1","c":68,"v":0.8},{"g":"IFIH1","c":69,"v":1},{"g":"IFIH1","c":70,"v":1},{"g":"IFIH1","c":71,"v":0.9},{"g":"IFIH1","c":72,"v":0.9},{"g":"IFIH1","c":73,"v":1},{"g":"IFIH1","c":74,"v":0.6},{"g":"IFIH1","c":75,"v":0.9},{"g":"IFIH1","c":76,"v":0.9},{"g":"IFIH1","c":77,"v":0.7},
{"g":"IRF7","c":0,"v":-0.9},{"g":"IRF7","c":1,"v":-0.8},{"g":"IRF7","c":2,"v":-0.8},{"g":"IRF7","c":3,"v":-0.6},{"g":"IRF7","c":4,"v":-0.8},{"g":"IRF7","c":5,"v":-0.8},{"g":"IRF7","c":6,"v":-0.8},{"g":"IRF7","c":7,"v":-0.7},{"g":"IRF7","c":8,"v":-0.8},{"g":"IRF7","c":9,"v":-0.7},{"g":"IRF7","c":10,"v":-0.8},{"g":"IRF7","c":11,"v":-0.7},{"g":"IRF7","c":12,"v":-0.8},{"g":"IRF7","c":13,"v":-0.8},{"g":"IRF7","c":14,"v":-0.7},{"g":"IRF7","c":15,"v":-0.8},{"g":"IRF7","c":16,"v":-0.8},{"g":"IRF7","c":17,"v":-0.7},{"g":"IRF7","c":18,"v":-0.8},{"g":"IRF7","c":19,"v":-0.8},{"g":"IRF7","c":20,"v":-0.9},{"g":"IRF7","c":21,"v":-0.8},{"g":"IRF7","c":22,"v":-0.8},{"g":"IRF7","c":23,"v":-0.7},{"g":"IRF7","c":24,"v":-0.8},{"g":"IRF7","c":25,"v":-0.9},{"g":"IRF7","c":26,"v":-0.8},{"g":"IRF7","c":27,"v":-0.8},{"g":"IRF7","c":28,"v":-0.8},{"g":"IRF7","c":29,"v":0.1},{"g":"IRF7","c":30,"v":-0.8},{"g":"IRF7","c":31,"v":0.2},{"g":"IRF7","c":32,"v":0.3},{"g":"IRF7","c":33,"v":0.2},{"g":"IRF7","c":34,"v":1.2},{"g":"IRF7","c":35,"v":0.2},{"g":"IRF7","c":36,"v":-0.1},{"g":"IRF7","c":37,"v":0.3},{"g":"IRF7","c":38,"v":0.4},{"g":"IRF7","c":39,"v":-1.3},{"g":"IRF7","c":40,"v":-1.5},{"g":"IRF7","c":41,"v":-1.5},{"g":"IRF7","c":42,"v":-1.5},{"g":"IRF7","c":43,"v":-1.5},{"g":"IRF7","c":44,"v":-1.5},{"g":"IRF7","c":45,"v":-0.4},{"g":"IRF7","c":46,"v":0},{"g":"IRF7","c":47,"v":0.3},{"g":"IRF7","c":48,"v":0.5},{"g":"IRF7","c":49,"v":-1.2},{"g":"IRF7","c":50,"v":2.3},{"g":"IRF7","c":51,"v":2.2},{"g":"IRF7","c":52,"v":1.2},{"g":"IRF7","c":53,"v":1.7},{"g":"IRF7","c":54,"v":1.1},{"g":"IRF7","c":55,"v":1.1},{"g":"IRF7","c":56,"v":1.1},{"g":"IRF7","c":57,"v":1.2},{"g":"IRF7","c":58,"v":1.1},{"g":"IRF7","c":59,"v":1.2},{"g":"IRF7","c":60,"v":1.2},{"g":"IRF7","c":61,"v":1.2},{"g":"IRF7","c":62,"v":0.8},{"g":"IRF7","c":63,"v":0.4},{"g":"IRF7","c":64,"v":0.5},{"g":"IRF7","c":65,"v":0.6},{"g":"IRF7","c":66,"v":0.4},{"g":"IRF7","c":67,"v":0.7},{"g":"IRF7","c":68,"v":0.6},{"g":"IRF7","c":69,"v":0.6},{"g":"IRF7","c":70,"v":0.7},{"g":"IRF7","c":71,"v":0.2},{"g":"IRF7","c":72,"v":0.8},{"g":"IRF7","c":73,"v":0.7},{"g":"IRF7","c":74,"v":0.8},{"g":"IRF7","c":75,"v":0.2},{"g":"IRF7","c":76,"v":0.8},{"g":"IRF7","c":77,"v":0.9},
{"g":"IFI35","c":0,"v":-0.9},{"g":"IFI35","c":1,"v":-0.1},{"g":"IFI35","c":2,"v":-0.8},{"g":"IFI35","c":3,"v":-0.8},{"g":"IFI35","c":4,"v":-0.8},{"g":"IFI35","c":5,"v":-0.7},{"g":"IFI35","c":6,"v":-0.8},{"g":"IFI35","c":7,"v":-0.8},{"g":"IFI35","c":8,"v":-0.7},{"g":"IFI35","c":9,"v":-0.8},{"g":"IFI35","c":10,"v":-0.8},{"g":"IFI35","c":11,"v":-0.8},{"g":"IFI35","c":12,"v":-0.7},{"g":"IFI35","c":13,"v":-0.1},{"g":"IFI35","c":14,"v":0.4},{"g":"IFI35","c":15,"v":-0.8},{"g":"IFI35","c":16,"v":-0.9},{"g":"IFI35","c":17,"v":-0.8},{"g":"IFI35","c":18,"v":-0.8},{"g":"IFI35","c":19,"v":-0.9},{"g":"IFI35","c":20,"v":-0.8},{"g":"IFI35","c":21,"v":-0.1},{"g":"IFI35","c":22,"v":-0.7},{"g":"IFI35","c":23,"v":-0.8},{"g":"IFI35","c":24,"v":-1},{"g":"IFI35","c":25,"v":-0.3},{"g":"IFI35","c":26,"v":-0.5},{"g":"IFI35","c":27,"v":-0.8},{"g":"IFI35","c":28,"v":-0.8},{"g":"IFI35","c":29,"v":0.1},{"g":"IFI35","c":30,"v":0.4},{"g":"IFI35","c":31,"v":0.3},{"g":"IFI35","c":32,"v":0.4},{"g":"IFI35","c":33,"v":0.6},{"g":"IFI35","c":34,"v":0.7},{"g":"IFI35","c":35,"v":0.7},{"g":"IFI35","c":36,"v":1.2},{"g":"IFI35","c":37,"v":0.7},{"g":"IFI35","c":38,"v":1.1},{"g":"IFI35","c":39,"v":0.7},{"g":"IFI35","c":40,"v":0.8},{"g":"IFI35","c":41,"v":0.7},{"g":"IFI35","c":42,"v":0.2},{"g":"IFI35","c":43,"v":0.2},{"g":"IFI35","c":44,"v":-1.5},{"g":"IFI35","c":45,"v":-0.5},{"g":"IFI35","c":46,"v":-0.4},{"g":"IFI35","c":47,"v":-0.8},{"g":"IFI35","c":48,"v":-1.4},{"g":"IFI35","c":49,"v":-1.4},{"g":"IFI35","c":50,"v":1.6},{"g":"IFI35","c":51,"v":2},{"g":"IFI35","c":52,"v":0.9},{"g":"IFI35","c":53,"v":2.2},{"g":"IFI35","c":54,"v":0.9},{"g":"IFI35","c":55,"v":0.6},{"g":"IFI35","c":56,"v":0.8},{"g":"IFI35","c":57,"v":1},{"g":"IFI35","c":58,"v":1.6},{"g":"IFI35","c":59,"v":1.8},{"g":"IFI35","c":60,"v":-1.7},{"g":"IFI35","c":61,"v":0.4},{"g":"IFI35","c":62,"v":0.4},{"g":"IFI35","c":63,"v":0.3},{"g":"IFI35","c":64,"v":0.1},{"g":"IFI35","c":65,"v":-0.1},{"g":"IFI35","c":66,"v":-0.1},{"g":"IFI35","c":67,"v":0.7},{"g":"IFI35","c":68,"v":0.7},{"g":"IFI35","c":69,"v":0.8},{"g":"IFI35","c":70,"v":0.8},{"g":"IFI35","c":71,"v":0.8},{"g":"IFI35","c":72,"v":1},{"g":"IFI35","c":73,"v":0.9},{"g":"IFI35","c":74,"v":0.7},{"g":"IFI35","c":75,"v":0.7},{"g":"IFI35","c":76,"v":0.7},{"g":"IFI35","c":77,"v":0.8},
{"g":"IFIT1","c":0,"v":-1.7},{"g":"IFIT1","c":1,"v":-0.9},{"g":"IFIT1","c":2,"v":-0.8},{"g":"IFIT1","c":3,"v":-0.8},{"g":"IFIT1","c":4,"v":-0.8},{"g":"IFIT1","c":5,"v":-2},{"g":"IFIT1","c":6,"v":-1},{"g":"IFIT1","c":7,"v":-1},{"g":"IFIT1","c":8,"v":-2},{"g":"IFIT1","c":9,"v":-1.1},{"g":"IFIT1","c":10,"v":-0.6},{"g":"IFIT1","c":11,"v":-0.8},{"g":"IFIT1","c":12,"v":-0.7},{"g":"IFIT1","c":13,"v":-1.7},{"g":"IFIT1","c":14,"v":-1},{"g":"IFIT1","c":15,"v":-0.9},{"g":"IFIT1","c":16,"v":-0.9},{"g":"IFIT1","c":17,"v":-0.8},{"g":"IFIT1","c":18,"v":-0.9},{"g":"IFIT1","c":19,"v":-0.9},{"g":"IFIT1","c":20,"v":-0.8},{"g":"IFIT1","c":21,"v":-0.9},{"g":"IFIT1","c":22,"v":-0.9},{"g":"IFIT1","c":23,"v":-1},{"g":"IFIT1","c":24,"v":-0.9},{"g":"IFIT1","c":25,"v":-0.9},{"g":"IFIT1","c":26,"v":-0.8},{"g":"IFIT1","c":27,"v":-2.2},{"g":"IFIT1","c":28,"v":-2.1},{"g":"IFIT1","c":29,"v":0.2},{"g":"IFIT1","c":30,"v":0.2},{"g":"IFIT1","c":31,"v":0.2},{"g":"IFIT1","c":32,"v":0.3},{"g":"IFIT1","c":33,"v":0.2},{"g":"IFIT1","c":34,"v":0.1},{"g":"IFIT1","c":35,"v":0.6},{"g":"IFIT1","c":36,"v":0.9},{"g":"IFIT1","c":37,"v":0.8},{"g":"IFIT1","c":38,"v":1.2},{"g":"IFIT1","c":39,"v":1},{"g":"IFIT1","c":40,"v":0.9},{"g":"IFIT1","c":41,"v":0.2},{"g":"IFIT1","c":42,"v":0.1},{"g":"IFIT1","c":43,"v":0},{"g":"IFIT1","c":44,"v":-0.2},{"g":"IFIT1","c":45,"v":-0.4},{"g":"IFIT1","c":46,"v":-0.2},{"g":"IFIT1","c":47,"v":-0.3},{"g":"IFIT1","c":48,"v":-0.4},{"g":"IFIT1","c":49,"v":-0.3},{"g":"IFIT1","c":50,"v":1.9},{"g":"IFIT1","c":51,"v":1.1},{"g":"IFIT1","c":52,"v":1.1},{"g":"IFIT1","c":53,"v":1.2},{"g":"IFIT1","c":54,"v":1},{"g":"IFIT1","c":55,"v":1.1},{"g":"IFIT1","c":56,"v":1.9},{"g":"IFIT1","c":57,"v":1},{"g":"IFIT1","c":58,"v":0.5},{"g":"IFIT1","c":59,"v":0.5},{"g":"IFIT1","c":60,"v":0.6},{"g":"IFIT1","c":61,"v":0.3},{"g":"IFIT1","c":62,"v":0.7},{"g":"IFIT1","c":63,"v":-0.4},{"g":"IFIT1","c":64,"v":-0.9},{"g":"IFIT1","c":65,"v":0.5},{"g":"IFIT1","c":66,"v":0.5},{"g":"IFIT1","c":67,"v":0.7},{"g":"IFIT1","c":68,"v":0.5},{"g":"IFIT1","c":69,"v":0.6},{"g":"IFIT1","c":70,"v":0.7},{"g":"IFIT1","c":71,"v":0.8},{"g":"IFIT1","c":72,"v":1.8},{"g":"IFIT1","c":73,"v":1.2},{"g":"IFIT1","c":74,"v":0.6},{"g":"IFIT1","c":75,"v":0.8},{"g":"IFIT1","c":76,"v":0.7},{"g":"IFIT1","c":77,"v":0.8},
{"g":"DDX58","c":0,"v":-1},{"g":"DDX58","c":1,"v":-1},{"g":"DDX58","c":2,"v":-1.1},{"g":"DDX58","c":3,"v":-1},{"g":"DDX58","c":4,"v":-1},{"g":"DDX58","c":5,"v":-0.9},{"g":"DDX58","c":6,"v":-1},{"g":"DDX58","c":7,"v":-1},{"g":"DDX58","c":8,"v":-1},{"g":"DDX58","c":9,"v":-1.1},{"g":"DDX58","c":10,"v":-1},{"g":"DDX58","c":11,"v":-1},{"g":"DDX58","c":12,"v":-0.2},{"g":"DDX58","c":13,"v":-0.3},{"g":"DDX58","c":14,"v":-0.8},{"g":"DDX58","c":15,"v":-1},{"g":"DDX58","c":16,"v":-1},{"g":"DDX58","c":17,"v":-0.3},{"g":"DDX58","c":18,"v":-0.9},{"g":"DDX58","c":19,"v":-0.9},{"g":"DDX58","c":20,"v":-1},{"g":"DDX58","c":21,"v":-0.9},{"g":"DDX58","c":22,"v":-0.9},{"g":"DDX58","c":23,"v":-0.9},{"g":"DDX58","c":24,"v":-1},{"g":"DDX58","c":25,"v":-0.9},{"g":"DDX58","c":26,"v":-0.9},{"g":"DDX58","c":27,"v":-0.9},{"g":"DDX58","c":28,"v":-0.9},{"g":"DDX58","c":29,"v":-1.1},{"g":"DDX58","c":30,"v":-0.6},{"g":"DDX58","c":31,"v":-0.4},{"g":"DDX58","c":32,"v":-0.3},{"g":"DDX58","c":33,"v":-0.1},{"g":"DDX58","c":34,"v":-0.2},{"g":"DDX58","c":35,"v":0.1},{"g":"DDX58","c":36,"v":0.5},{"g":"DDX58","c":37,"v":0.4},{"g":"DDX58","c":38,"v":0.7},{"g":"DDX58","c":39,"v":0.6},{"g":"DDX58","c":40,"v":0.6},{"g":"DDX58","c":41,"v":0.4},{"g":"DDX58","c":42,"v":0.1},{"g":"DDX58","c":43,"v":0.1},{"g":"DDX58","c":44,"v":-1.5},{"g":"DDX58","c":45,"v":-0.2},{"g":"DDX58","c":46,"v":0},{"g":"DDX58","c":47,"v":-0.2},{"g":"DDX58","c":48,"v":-1.6},{"g":"DDX58","c":49,"v":-0.1},{"g":"DDX58","c":50,"v":2.4},{"g":"DDX58","c":51,"v":0.7},{"g":"DDX58","c":52,"v":2},{"g":"DDX58","c":53,"v":1.1},{"g":"DDX58","c":54,"v":1.3},{"g":"DDX58","c":55,"v":1.4},{"g":"DDX58","c":56,"v":1.7},{"g":"DDX58","c":57,"v":0.9},{"g":"DDX58","c":58,"v":0.9},{"g":"DDX58","c":59,"v":0.8},{"g":"DDX58","c":60,"v":1},{"g":"DDX58","c":61,"v":0.9},{"g":"DDX58","c":62,"v":0.8},{"g":"DDX58","c":63,"v":0.9},{"g":"DDX58","c":64,"v":0.9},{"g":"DDX58","c":65,"v":0.8},{"g":"DDX58","c":66,"v":0.9},{"g":"DDX58","c":67,"v":0.7},{"g":"DDX58","c":68,"v":1.1},{"g":"DDX58","c":69,"v":1},{"g":"DDX58","c":70,"v":1},{"g":"DDX58","c":71,"v":0.9},{"g":"DDX58","c":72,"v":0.9},{"g":"DDX58","c":73,"v":0.9},{"g":"DDX58","c":74,"v":0.9},{"g":"DDX58","c":75,"v":0.9},{"g":"DDX58","c":76,"v":0.8},{"g":"DDX58","c":77,"v":0.9},
{"g":"MX2","c":0,"v":-0.9},{"g":"MX2","c":1,"v":-0.9},{"g":"MX2","c":2,"v":-1},{"g":"MX2","c":3,"v":-0.9},{"g":"MX2","c":4,"v":-0.9},{"g":"MX2","c":5,"v":-0.8},{"g":"MX2","c":6,"v":-0.9},{"g":"MX2","c":7,"v":-0.9},{"g":"MX2","c":8,"v":-0.8},{"g":"MX2","c":9,"v":-0.1},{"g":"MX2","c":10,"v":-0.9},{"g":"MX2","c":11,"v":-1},{"g":"MX2","c":12,"v":-0.9},{"g":"MX2","c":13,"v":-0.9},{"g":"MX2","c":14,"v":-0.9},{"g":"MX2","c":15,"v":-1},{"g":"MX2","c":16,"v":-0.9},{"g":"MX2","c":17,"v":-0.6},{"g":"MX2","c":18,"v":-0.9},{"g":"MX2","c":19,"v":-0.9},{"g":"MX2","c":20,"v":-1},{"g":"MX2","c":21,"v":-0.9},{"g":"MX2","c":22,"v":-0.9},{"g":"MX2","c":23,"v":-0.9},{"g":"MX2","c":24,"v":-1},{"g":"MX2","c":25,"v":-0.9},{"g":"MX2","c":26,"v":-0.9},{"g":"MX2","c":27,"v":-0.9},{"g":"MX2","c":28,"v":-0.9},{"g":"MX2","c":29,"v":0},{"g":"MX2","c":30,"v":0},{"g":"MX2","c":31,"v":0},{"g":"MX2","c":32,"v":0.4},{"g":"MX2","c":33,"v":0.3},{"g":"MX2","c":34,"v":0.3},{"g":"MX2","c":35,"v":0.5},{"g":"MX2","c":36,"v":0.8},{"g":"MX2","c":37,"v":1},{"g":"MX2","c":38,"v":1},{"g":"MX2","c":39,"v":0.8},{"g":"MX2","c":40,"v":0.7},{"g":"MX2","c":41,"v":-1.2},{"g":"MX2","c":42,"v":0.2},{"g":"MX2","c":43,"v":0.2},{"g":"MX2","c":44,"v":0.2},{"g":"MX2","c":45,"v":-0.1},{"g":"MX2","c":46,"v":0},{"g":"MX2","c":47,"v":-0.2},{"g":"MX2","c":48,"v":-0.2},{"g":"MX2","c":49,"v":-0.2},{"g":"MX2","c":50,"v":2.2},{"g":"MX2","c":51,"v":1.7},{"g":"MX2","c":52,"v":1.2},{"g":"MX2","c":53,"v":1.6},{"g":"MX2","c":54,"v":1.4},{"g":"MX2","c":55,"v":0.8},{"g":"MX2","c":56,"v":1},{"g":"MX2","c":57,"v":0.9},{"g":"MX2","c":58,"v":0.8},{"g":"MX2","c":59,"v":1.1},{"g":"MX2","c":60,"v":1.1},{"g":"MX2","c":61,"v":0.7},{"g":"MX2","c":62,"v":0.7},{"g":"MX2","c":63,"v":0.6},{"g":"MX2","c":64,"v":0.7},{"g":"MX2","c":65,"v":0.6},{"g":"MX2","c":66,"v":0.3},{"g":"MX2","c":67,"v":0.3},{"g":"MX2","c":68,"v":0.7},{"g":"MX2","c":69,"v":0.7},{"g":"MX2","c":70,"v":0.8},{"g":"MX2","c":71,"v":0.8},{"g":"MX2","c":72,"v":0.9},{"g":"MX2","c":73,"v":0.9},{"g":"MX2","c":74,"v":0.7},{"g":"MX2","c":75,"v":0.7},{"g":"MX2","c":76,"v":0.7},{"g":"MX2","c":77,"v":0.7},
{"g":"OAS3","c":0,"v":-0.9},{"g":"OAS3","c":1,"v":-1},{"g":"OAS3","c":2,"v":-0.9},{"g":"OAS3","c":3,"v":-0.9},{"g":"OAS3","c":4,"v":-0.9},{"g":"OAS3","c":5,"v":-0.8},{"g":"OAS3","c":6,"v":-0.9},{"g":"OAS3","c":7,"v":-0.9},{"g":"OAS3","c":8,"v":-0.8},{"g":"OAS3","c":9,"v":-0.2},{"g":"OAS3","c":10,"v":-0.9},{"g":"OAS3","c":11,"v":-0.9},{"g":"OAS3","c":12,"v":-0.7},{"g":"OAS3","c":13,"v":-0.9},{"g":"OAS3","c":14,"v":-0.9},{"g":"OAS3","c":15,"v":-1},{"g":"OAS3","c":16,"v":-0.9},{"g":"OAS3","c":17,"v":-0.9},{"g":"OAS3","c":18,"v":-0.8},{"g":"OAS3","c":19,"v":-0.9},{"g":"OAS3","c":20,"v":-0.9},{"g":"OAS3","c":21,"v":-1},{"g":"OAS3","c":22,"v":-0.9},{"g":"OAS3","c":23,"v":-0.9},{"g":"OAS3","c":24,"v":-0.9},{"g":"OAS3","c":25,"v":-1},{"g":"OAS3","c":26,"v":-0.9},{"g":"OAS3","c":27,"v":-0.9},{"g":"OAS3","c":28,"v":-0.9},{"g":"OAS3","c":29,"v":0},{"g":"OAS3","c":30,"v":0.1},{"g":"OAS3","c":31,"v":0},{"g":"OAS3","c":32,"v":0.2},{"g":"OAS3","c":33,"v":0.3},{"g":"OAS3","c":34,"v":0.4},{"g":"OAS3","c":35,"v":0.5},{"g":"OAS3","c":36,"v":1},{"g":"OAS3","c":37,"v":1.3},{"g":"OAS3","c":38,"v":1},{"g":"OAS3","c":39,"v":0.8},{"g":"OAS3","c":40,"v":0.7},{"g":"OAS3","c":41,"v":-1.5},{"g":"OAS3","c":42,"v":-0.2},{"g":"OAS3","c":43,"v":-0.1},{"g":"OAS3","c":44,"v":-0.2},{"g":"OAS3","c":45,"v":-0.2},{"g":"OAS3","c":46,"v":-0.3},{"g":"OAS3","c":47,"v":-0.2},{"g":"OAS3","c":48,"v":-0.3},{"g":"OAS3","c":49,"v":-0.3},{"g":"OAS3","c":50,"v":2},{"g":"OAS3","c":51,"v":0.9},{"g":"OAS3","c":52,"v":1.7},{"g":"OAS3","c":53,"v":1.1},{"g":"OAS3","c":54,"v":1.2},{"g":"OAS3","c":55,"v":1.4},{"g":"OAS3","c":56,"v":1.8},{"g":"OAS3","c":57,"v":0.6},{"g":"OAS3","c":58,"v":0.6},{"g":"OAS3","c":59,"v":0.9},{"g":"OAS3","c":60,"v":0.6},{"g":"OAS3","c":61,"v":0.8},{"g":"OAS3","c":62,"v":0.7},{"g":"OAS3","c":63,"v":0.5},{"g":"OAS3","c":64,"v":-0.5},{"g":"OAS3","c":65,"v":0.5},{"g":"OAS3","c":66,"v":0.7},{"g":"OAS3","c":67,"v":0.7},{"g":"OAS3","c":68,"v":0.8},{"g":"OAS3","c":69,"v":0.9},{"g":"OAS3","c":70,"v":0.9},{"g":"OAS3","c":71,"v":0.9},{"g":"OAS3","c":72,"v":0.9},{"g":"OAS3","c":73,"v":0.9},{"g":"OAS3","c":74,"v":0.6},{"g":"OAS3","c":75,"v":0.6},{"g":"OAS3","c":76,"v":0.6},{"g":"OAS3","c":77,"v":0.7},
{"g":"ISG15","c":0,"v":-0.9},{"g":"ISG15","c":1,"v":-0.9},{"g":"ISG15","c":2,"v":-1},{"g":"ISG15","c":3,"v":-1},{"g":"ISG15","c":4,"v":-0.9},{"g":"ISG15","c":5,"v":-0.9},{"g":"ISG15","c":6,"v":-0.8},{"g":"ISG15","c":7,"v":-0.9},{"g":"ISG15","c":8,"v":-0.9},{"g":"ISG15","c":9,"v":-0.9},{"g":"ISG15","c":10,"v":-0.9},{"g":"ISG15","c":11,"v":-1},{"g":"ISG15","c":12,"v":-0.9},{"g":"ISG15","c":13,"v":-0.9},{"g":"ISG15","c":14,"v":-0.8},{"g":"ISG15","c":15,"v":-0.9},{"g":"ISG15","c":16,"v":-0.9},{"g":"ISG15","c":17,"v":-0.5},{"g":"ISG15","c":18,"v":-0.9},{"g":"ISG15","c":19,"v":-0.9},{"g":"ISG15","c":20,"v":-1},{"g":"ISG15","c":21,"v":-0.9},{"g":"ISG15","c":22,"v":-1},{"g":"ISG15","c":23,"v":-1},{"g":"ISG15","c":24,"v":-1},{"g":"ISG15","c":25,"v":-1},{"g":"ISG15","c":26,"v":-0.9},{"g":"ISG15","c":27,"v":-1},{"g":"ISG15","c":28,"v":-1},{"g":"ISG15","c":29,"v":0},{"g":"ISG15","c":30,"v":0.1},{"g":"ISG15","c":31,"v":0.1},{"g":"ISG15","c":32,"v":0.3},{"g":"ISG15","c":33,"v":0.3},{"g":"ISG15","c":34,"v":0.4},{"g":"ISG15","c":35,"v":0.7},{"g":"ISG15","c":36,"v":1},{"g":"ISG15","c":37,"v":0.8},{"g":"ISG15","c":38,"v":1},{"g":"ISG15","c":39,"v":0.8},{"g":"ISG15","c":40,"v":0.8},{"g":"ISG15","c":41,"v":0.3},{"g":"ISG15","c":42,"v":0},{"g":"ISG15","c":43,"v":-0.2},{"g":"ISG15","c":44,"v":-0.1},{"g":"ISG15","c":45,"v":-0.4},{"g":"ISG15","c":46,"v":-0.6},{"g":"ISG15","c":47,"v":-0.5},{"g":"ISG15","c":48,"v":-0.6},{"g":"ISG15","c":49,"v":-0.5},{"g":"ISG15","c":50,"v":1.5},{"g":"ISG15","c":51,"v":0.6},{"g":"ISG15","c":52,"v":1},{"g":"ISG15","c":53,"v":2.1},{"g":"ISG15","c":54,"v":0.8},{"g":"ISG15","c":55,"v":0.9},{"g":"ISG15","c":56,"v":1.9},{"g":"ISG15","c":57,"v":0.6},{"g":"ISG15","c":58,"v":1.2},{"g":"ISG15","c":59,"v":1.4},{"g":"ISG15","c":60,"v":0.8},{"g":"ISG15","c":61,"v":0.7},{"g":"ISG15","c":62,"v":-0.3},{"g":"ISG15","c":63,"v":0.3},{"g":"ISG15","c":64,"v":-0.5},{"g":"ISG15","c":65,"v":0.7},{"g":"ISG15","c":66,"v":0.7},{"g":"ISG15","c":67,"v":0.8},{"g":"ISG15","c":68,"v":0.9},{"g":"ISG15","c":69,"v":0.9},{"g":"ISG15","c":70,"v":0.9},{"g":"ISG15","c":71,"v":1},{"g":"ISG15","c":72,"v":0.9},{"g":"ISG15","c":73,"v":0.9},{"g":"ISG15","c":74,"v":0.9},{"g":"ISG15","c":75,"v":0.9},{"g":"ISG15","c":76,"v":0.8},{"g":"ISG15","c":77,"v":0.8},
{"g":"MX1","c":0,"v":-2.2},{"g":"MX1","c":1,"v":-0.9},{"g":"MX1","c":2,"v":-1.1},{"g":"MX1","c":3,"v":-1.2},{"g":"MX1","c":4,"v":-0.9},{"g":"MX1","c":5,"v":-0.9},{"g":"MX1","c":6,"v":-0.9},{"g":"MX1","c":7,"v":-0.8},{"g":"MX1","c":8,"v":-0.9},{"g":"MX1","c":9,"v":-0.9},{"g":"MX1","c":10,"v":-0.9},{"g":"MX1","c":11,"v":-1.3},{"g":"MX1","c":12,"v":-0.8},{"g":"MX1","c":13,"v":-0.9},{"g":"MX1","c":14,"v":-1},{"g":"MX1","c":15,"v":-1},{"g":"MX1","c":16,"v":-0.9},{"g":"MX1","c":17,"v":-0.9},{"g":"MX1","c":18,"v":-1},{"g":"MX1","c":19,"v":-1},{"g":"MX1","c":20,"v":-0.9},{"g":"MX1","c":21,"v":-1},{"g":"MX1","c":22,"v":-1},{"g":"MX1","c":23,"v":-1.1},{"g":"MX1","c":24,"v":-1.1},{"g":"MX1","c":25,"v":-1.6},{"g":"MX1","c":26,"v":-1},{"g":"MX1","c":27,"v":-1.2},{"g":"MX1","c":28,"v":-1.2},{"g":"MX1","c":29,"v":0},{"g":"MX1","c":30,"v":0},{"g":"MX1","c":31,"v":-0.1},{"g":"MX1","c":32,"v":0.2},{"g":"MX1","c":33,"v":0.2},{"g":"MX1","c":34,"v":0.2},{"g":"MX1","c":35,"v":0.4},{"g":"MX1","c":36,"v":0.7},{"g":"MX1","c":37,"v":0.9},{"g":"MX1","c":38,"v":0.9},{"g":"MX1","c":39,"v":0.9},{"g":"MX1","c":40,"v":0.8},{"g":"MX1","c":41,"v":0.5},{"g":"MX1","c":42,"v":-0.1},{"g":"MX1","c":43,"v":-0.3},{"g":"MX1","c":44,"v":-0.2},{"g":"MX1","c":45,"v":-0.2},{"g":"MX1","c":46,"v":-0.4},{"g":"MX1","c":47,"v":-0.3},{"g":"MX1","c":48,"v":-0.3},{"g":"MX1","c":49,"v":-0.2},{"g":"MX1","c":50,"v":2.1},{"g":"MX1","c":51,"v":2.2},{"g":"MX1","c":52,"v":1},{"g":"MX1","c":53,"v":1.2},{"g":"MX1","c":54,"v":1.3},{"g":"MX1","c":55,"v":0.9},{"g":"MX1","c":56,"v":1},{"g":"MX1","c":57,"v":0.8},{"g":"MX1","c":58,"v":0.8},{"g":"MX1","c":59,"v":0.8},{"g":"MX1","c":60,"v":0.9},{"g":"MX1","c":61,"v":0.5},{"g":"MX1","c":62,"v":0.6},{"g":"MX1","c":63,"v":0.4},{"g":"MX1","c":64,"v":-0.1},{"g":"MX1","c":65,"v":0.5},{"g":"MX1","c":66,"v":0.8},{"g":"MX1","c":67,"v":0.8},{"g":"MX1","c":68,"v":0.9},{"g":"MX1","c":69,"v":0.8},{"g":"MX1","c":70,"v":0.9},{"g":"MX1","c":71,"v":0.9},{"g":"MX1","c":72,"v":0.9},{"g":"MX1","c":73,"v":0.8},{"g":"MX1","c":74,"v":0.7},{"g":"MX1","c":75,"v":0.6},{"g":"MX1","c":76,"v":0.6},{"g":"MX1","c":77,"v":0.7},
{"g":"PSMB8","c":0,"v":0.1},{"g":"PSMB8","c":1,"v":-0.1},{"g":"PSMB8","c":2,"v":0},{"g":"PSMB8","c":3,"v":0.1},{"g":"PSMB8","c":4,"v":-0.6},{"g":"PSMB8","c":5,"v":-0.2},{"g":"PSMB8","c":6,"v":-0.2},{"g":"PSMB8","c":7,"v":-0.3},{"g":"PSMB8","c":8,"v":-0.2},{"g":"PSMB8","c":9,"v":-1.3},{"g":"PSMB8","c":10,"v":-0.3},{"g":"PSMB8","c":11,"v":-0.9},{"g":"PSMB8","c":12,"v":0.9},{"g":"PSMB8","c":13,"v":-0.3},{"g":"PSMB8","c":14,"v":-0.1},{"g":"PSMB8","c":15,"v":-1.3},{"g":"PSMB8","c":16,"v":-1.2},{"g":"PSMB8","c":17,"v":-1.1},{"g":"PSMB8","c":18,"v":-1},{"g":"PSMB8","c":19,"v":-1.4},{"g":"PSMB8","c":20,"v":-1.5},{"g":"PSMB8","c":21,"v":-1.4},{"g":"PSMB8","c":22,"v":-1.3},{"g":"PSMB8","c":23,"v":-2},{"g":"PSMB8","c":24,"v":-2.3},{"g":"PSMB8","c":25,"v":-1.5},{"g":"PSMB8","c":26,"v":-1.4},{"g":"PSMB8","c":27,"v":-0.4},{"g":"PSMB8","c":28,"v":-0.2},{"g":"PSMB8","c":29,"v":-2.3},{"g":"PSMB8","c":30,"v":-0.7},{"g":"PSMB8","c":31,"v":-0.8},{"g":"PSMB8","c":32,"v":-0.3},{"g":"PSMB8","c":33,"v":-0.5},{"g":"PSMB8","c":34,"v":-0.1},{"g":"PSMB8","c":35,"v":-1},{"g":"PSMB8","c":36,"v":-0.3},{"g":"PSMB8","c":37,"v":-0.1},{"g":"PSMB8","c":38,"v":-1},{"g":"PSMB8","c":39,"v":0.7},{"g":"PSMB8","c":40,"v":1},{"g":"PSMB8","c":41,"v":1.4},{"g":"PSMB8","c":42,"v":0.1},{"g":"PSMB8","c":43,"v":0.6},{"g":"PSMB8","c":44,"v":0.3},{"g":"PSMB8","c":45,"v":-0.1},{"g":"PSMB8","c":46,"v":-0.1},{"g":"PSMB8","c":47,"v":-1},{"g":"PSMB8","c":48,"v":0.1},{"g":"PSMB8","c":49,"v":0.4},{"g":"PSMB8","c":50,"v":2.3},{"g":"PSMB8","c":51,"v":-0.1},{"g":"PSMB8","c":52,"v":0.8},{"g":"PSMB8","c":53,"v":1.6},{"g":"PSMB8","c":54,"v":1.9},{"g":"PSMB8","c":55,"v":0.8},{"g":"PSMB8","c":56,"v":0.8},{"g":"PSMB8","c":57,"v":0.6},{"g":"PSMB8","c":58,"v":0.3},{"g":"PSMB8","c":59,"v":0.8},{"g":"PSMB8","c":60,"v":0.9},{"g":"PSMB8","c":61,"v":0.8},{"g":"PSMB8","c":62,"v":2.4},{"g":"PSMB8","c":63,"v":0.3},{"g":"PSMB8","c":64,"v":0.6},{"g":"PSMB8","c":65,"v":0.8},{"g":"PSMB8","c":66,"v":0.5},{"g":"PSMB8","c":67,"v":1},{"g":"PSMB8","c":68,"v":1.3},{"g":"PSMB8","c":69,"v":0.4},{"g":"PSMB8","c":70,"v":0.6},{"g":"PSMB8","c":71,"v":0.5},{"g":"PSMB8","c":72,"v":0.2},{"g":"PSMB8","c":73,"v":0.5},{"g":"PSMB8","c":74,"v":-0.6},{"g":"PSMB8","c":75,"v":-1},{"g":"PSMB8","c":76,"v":-0.2},{"g":"PSMB8","c":77,"v":-0.3},
{"g":"IFI27","c":0,"v":-2.5},{"g":"IFI27","c":1,"v":-1},{"g":"IFI27","c":2,"v":-1.1},{"g":"IFI27","c":3,"v":-0.9},{"g":"IFI27","c":4,"v":-0.9},{"g":"IFI27","c":5,"v":-0.7},{"g":"IFI27","c":6,"v":-0.7},{"g":"IFI27","c":7,"v":-0.8},{"g":"IFI27","c":8,"v":-1.2},{"g":"IFI27","c":9,"v":-1.1},{"g":"IFI27","c":10,"v":-0.9},{"g":"IFI27","c":11,"v":-0.6},{"g":"IFI27","c":12,"v":-0.3},{"g":"IFI27","c":13,"v":-1.7},{"g":"IFI27","c":14,"v":-1},{"g":"IFI27","c":15,"v":-1},{"g":"IFI27","c":16,"v":-1.2},{"g":"IFI27","c":17,"v":-1.2},{"g":"IFI27","c":18,"v":-1.3},{"g":"IFI27","c":19,"v":-1.3},{"g":"IFI27","c":20,"v":-1.5},{"g":"IFI27","c":21,"v":-1.4},{"g":"IFI27","c":22,"v":-1.6},{"g":"IFI27","c":23,"v":-1.5},{"g":"IFI27","c":24,"v":-1.5},{"g":"IFI27","c":25,"v":-1.5},{"g":"IFI27","c":26,"v":-1.4},{"g":"IFI27","c":27,"v":-1.3},{"g":"IFI27","c":28,"v":-0.6},{"g":"IFI27","c":29,"v":-0.6},{"g":"IFI27","c":30,"v":-0.1},{"g":"IFI27","c":31,"v":0.5},{"g":"IFI27","c":32,"v":0.6},{"g":"IFI27","c":33,"v":0.1},{"g":"IFI27","c":34,"v":0.1},{"g":"IFI27","c":35,"v":1.2},{"g":"IFI27","c":36,"v":0.3},{"g":"IFI27","c":37,"v":0.5},{"g":"IFI27","c":38,"v":0.5},{"g":"IFI27","c":39,"v":0.5},{"g":"IFI27","c":40,"v":0.8},{"g":"IFI27","c":41,"v":0.7},{"g":"IFI27","c":42,"v":0.4},{"g":"IFI27","c":43,"v":0.3},{"g":"IFI27","c":44,"v":0.1},{"g":"IFI27","c":45,"v":0.1},{"g":"IFI27","c":46,"v":0.1},{"g":"IFI27","c":47,"v":0.3},{"g":"IFI27","c":48,"v":0.3},{"g":"IFI27","c":49,"v":0.6},{"g":"IFI27","c":50,"v":1},{"g":"IFI27","c":51,"v":-0.2},{"g":"IFI27","c":52,"v":0.7},{"g":"IFI27","c":53,"v":0.7},{"g":"IFI27","c":54,"v":0.9},{"g":"IFI27","c":55,"v":0.9},{"g":"IFI27","c":56,"v":0.7},{"g":"IFI27","c":57,"v":-0.5},{"g":"IFI27","c":58,"v":-0.7},{"g":"IFI27","c":59,"v":0.9},{"g":"IFI27","c":60,"v":0.9},{"g":"IFI27","c":61,"v":0.9},{"g":"IFI27","c":62,"v":0.8},{"g":"IFI27","c":63,"v":0.8},{"g":"IFI27","c":64,"v":-0.2},{"g":"IFI27","c":65,"v":0.7},{"g":"IFI27","c":66,"v":0.8},{"g":"IFI27","c":67,"v":2},{"g":"IFI27","c":68,"v":2.1},{"g":"IFI27","c":69,"v":0.6},{"g":"IFI27","c":70,"v":0.9},{"g":"IFI27","c":71,"v":0.9},{"g":"IFI27","c":72,"v":0.8},{"g":"IFI27","c":73,"v":0.7},{"g":"IFI27","c":74,"v":0.7},{"g":"IFI27","c":75,"v":0.8},{"g":"IFI27","c":76,"v":0.6},{"g":"IFI27","c":77,"v":0.6},
{"g":"STAT1","c":0,"v":-2.5},{"g":"STAT1","c":1,"v":-0.6},{"g":"STAT1","c":2,"v":-0.6},{"g":"STAT1","c":3,"v":-0.8},{"g":"STAT1","c":4,"v":-0.9},{"g":"STAT1","c":5,"v":-0.7},{"g":"STAT1","c":6,"v":-0.6},{"g":"STAT1","c":7,"v":-0.7},{"g":"STAT1","c":8,"v":0.4},{"g":"STAT1","c":9,"v":-0.7},{"g":"STAT1","c":10,"v":-0.8},{"g":"STAT1","c":11,"v":-0.9},{"g":"STAT1","c":12,"v":-0.9},{"g":"STAT1","c":13,"v":-0.9},{"g":"STAT1","c":14,"v":-0.9},{"g":"STAT1","c":15,"v":-0.9},{"g":"STAT1","c":16,"v":-0.8},{"g":"STAT1","c":17,"v":-1.1},{"g":"STAT1","c":18,"v":-1.1},{"g":"STAT1","c":19,"v":-1.1},{"g":"STAT1","c":20,"v":-1.1},{"g":"STAT1","c":21,"v":-1.1},{"g":"STAT1","c":22,"v":-1.1},{"g":"STAT1","c":23,"v":-1.1},{"g":"STAT1","c":24,"v":-1.7},{"g":"STAT1","c":25,"v":-1.6},{"g":"STAT1","c":26,"v":-1.2},{"g":"STAT1","c":27,"v":-1.2},{"g":"STAT1","c":28,"v":-1},{"g":"STAT1","c":29,"v":-0.5},{"g":"STAT1","c":30,"v":-0.4},{"g":"STAT1","c":31,"v":-1.4},{"g":"STAT1","c":32,"v":-0.2},{"g":"STAT1","c":33,"v":-0.1},{"g":"STAT1","c":34,"v":-0.1},{"g":"STAT1","c":35,"v":0.2},{"g":"STAT1","c":36,"v":0.5},{"g":"STAT1","c":37,"v":0.4},{"g":"STAT1","c":38,"v":0.5},{"g":"STAT1","c":39,"v":1},{"g":"STAT1","c":40,"v":0.9},{"g":"STAT1","c":41,"v":0.8},{"g":"STAT1","c":42,"v":0.3},{"g":"STAT1","c":43,"v":0.3},{"g":"STAT1","c":44,"v":0.3},{"g":"STAT1","c":45,"v":0.3},{"g":"STAT1","c":46,"v":0.1},{"g":"STAT1","c":47,"v":-0.7},{"g":"STAT1","c":48,"v":0.2},{"g":"STAT1","c":49,"v":0.2},{"g":"STAT1","c":50,"v":1.8},{"g":"STAT1","c":51,"v":0.7},{"g":"STAT1","c":52,"v":1.6},{"g":"STAT1","c":53,"v":1},{"g":"STAT1","c":54,"v":1.8},{"g":"STAT1","c":55,"v":1.9},{"g":"STAT1","c":56,"v":0.9},{"g":"STAT1","c":57,"v":0.5},{"g":"STAT1","c":58,"v":0.8},{"g":"STAT1","c":59,"v":0.9},{"g":"STAT1","c":60,"v":0.9},{"g":"STAT1","c":61,"v":0.8},{"g":"STAT1","c":62,"v":0.7},{"g":"STAT1","c":63,"v":0.8},{"g":"STAT1","c":64,"v":0.8},{"g":"STAT1","c":65,"v":0.9},{"g":"STAT1","c":66,"v":1.4},{"g":"STAT1","c":67,"v":0.9},{"g":"STAT1","c":68,"v":0.8},{"g":"STAT1","c":69,"v":0.7},{"g":"STAT1","c":70,"v":0.7},{"g":"STAT1","c":71,"v":0.9},{"g":"STAT1","c":72,"v":0.9},{"g":"STAT1","c":73,"v":0.8},{"g":"STAT1","c":74,"v":0.7},{"g":"STAT1","c":75,"v":0.2},{"g":"STAT1","c":76,"v":0.3},{"g":"STAT1","c":77,"v":0.4},
{"g":"STAT2","c":0,"v":-5},{"g":"STAT2","c":1,"v":0},{"g":"STAT2","c":2,"v":0.1},{"g":"STAT2","c":3,"v":-0.3},{"g":"STAT2","c":4,"v":-0.2},{"g":"STAT2","c":5,"v":0},{"g":"STAT2","c":6,"v":0.1},{"g":"STAT2","c":7,"v":-0.2},{"g":"STAT2","c":8,"v":-0.5},{"g":"STAT2","c":9,"v":-0.4},{"g":"STAT2","c":10,"v":-0.7},{"g":"STAT2","c":11,"v":-1.4},{"g":"STAT2","c":12,"v":-0.5},{"g":"STAT2","c":13,"v":0},{"g":"STAT2","c":14,"v":-0.4},{"g":"STAT2","c":15,"v":-1.3},{"g":"STAT2","c":16,"v":-1.6},{"g":"STAT2","c":17,"v":-0.4},{"g":"STAT2","c":18,"v":-0.5},{"g":"STAT2","c":19,"v":-0.7},{"g":"STAT2","c":20,"v":-0.8},{"g":"STAT2","c":21,"v":-0.7},{"g":"STAT2","c":22,"v":-0.6},{"g":"STAT2","c":23,"v":-0.9},{"g":"STAT2","c":24,"v":-0.9},{"g":"STAT2","c":25,"v":-0.5},{"g":"STAT2","c":26,"v":-0.8},{"g":"STAT2","c":27,"v":-0.9},{"g":"STAT2","c":28,"v":-0.5},{"g":"STAT2","c":29,"v":-0.3},{"g":"STAT2","c":30,"v":-0.1},{"g":"STAT2","c":31,"v":-0.7},{"g":"STAT2","c":32,"v":0},{"g":"STAT2","c":33,"v":0.5},{"g":"STAT2","c":34,"v":0.4},{"g":"STAT2","c":35,"v":0.3},{"g":"STAT2","c":36,"v":0.5},{"g":"STAT2","c":37,"v":-0.1},{"g":"STAT2","c":38,"v":0},{"g":"STAT2","c":39,"v":-0.9},{"g":"STAT2","c":40,"v":-0.9},{"g":"STAT2","c":41,"v":-0.2},{"g":"STAT2","c":42,"v":-0.5},{"g":"STAT2","c":43,"v":-0.4},{"g":"STAT2","c":44,"v":-1},{"g":"STAT2","c":45,"v":-1.2},{"g":"STAT2","c":46,"v":-0.6},{"g":"STAT2","c":47,"v":-0.6},{"g":"STAT2","c":48,"v":-0.5},{"g":"STAT2","c":49,"v":-0.5},{"g":"STAT2","c":50,"v":1.7},{"g":"STAT2","c":51,"v":3},{"g":"STAT2","c":52,"v":1},{"g":"STAT2","c":53,"v":2},{"g":"STAT2","c":54,"v":1.2},{"g":"STAT2","c":55,"v":0.8},{"g":"STAT2","c":56,"v":0.3},{"g":"STAT2","c":57,"v":0.8},{"g":"STAT2","c":58,"v":0.6},{"g":"STAT2","c":59,"v":0.5},{"g":"STAT2","c":60,"v":0.5},{"g":"STAT2","c":61,"v":0.3},{"g":"STAT2","c":62,"v":-0.1},{"g":"STAT2","c":63,"v":-0.1},{"g":"STAT2","c":64,"v":0.1},{"g":"STAT2","c":65,"v":-0.1},{"g":"STAT2","c":66,"v":-0.1},{"g":"STAT2","c":67,"v":-0.1},{"g":"STAT2","c":68,"v":-0.4},{"g":"STAT2","c":69,"v":-0.2},{"g":"STAT2","c":70,"v":0.2},{"g":"STAT2","c":71,"v":0},{"g":"STAT2","c":72,"v":-0.9},{"g":"STAT2","c":73,"v":-0.3},{"g":"STAT2","c":74,"v":0.5},{"g":"STAT2","c":75,"v":0.6},{"g":"STAT2","c":76,"v":0.4},{"g":"STAT2","c":77,"v":0.2},
{"g":"SIGLEC1","c":0,"v":-1.1},{"g":"SIGLEC1","c":1,"v":-1},{"g":"SIGLEC1","c":2,"v":-1},{"g":"SIGLEC1","c":3,"v":-0.6},{"g":"SIGLEC1","c":4,"v":-1.2},{"g":"SIGLEC1","c":5,"v":-1},{"g":"SIGLEC1","c":6,"v":-1},{"g":"SIGLEC1","c":7,"v":-0.9},{"g":"SIGLEC1","c":8,"v":-1},{"g":"SIGLEC1","c":9,"v":-1},{"g":"SIGLEC1","c":10,"v":-1.1},{"g":"SIGLEC1","c":11,"v":-1},{"g":"SIGLEC1","c":12,"v":-0.8},{"g":"SIGLEC1","c":13,"v":-1},{"g":"SIGLEC1","c":14,"v":-1},{"g":"SIGLEC1","c":15,"v":-1.1},{"g":"SIGLEC1","c":16,"v":-1},{"g":"SIGLEC1","c":17,"v":-1},{"g":"SIGLEC1","c":18,"v":-1},{"g":"SIGLEC1","c":19,"v":-1.1},{"g":"SIGLEC1","c":20,"v":-1},{"g":"SIGLEC1","c":21,"v":-1},{"g":"SIGLEC1","c":22,"v":-1},{"g":"SIGLEC1","c":23,"v":-1.1},{"g":"SIGLEC1","c":24,"v":-1},{"g":"SIGLEC1","c":25,"v":-1},{"g":"SIGLEC1","c":26,"v":-1.1},{"g":"SIGLEC1","c":27,"v":-1},{"g":"SIGLEC1","c":28,"v":-1},{"g":"SIGLEC1","c":29,"v":-0.4},{"g":"SIGLEC1","c":30,"v":-0.5},{"g":"SIGLEC1","c":31,"v":-0.3},{"g":"SIGLEC1","c":32,"v":-0.2},{"g":"SIGLEC1","c":33,"v":-1.2},{"g":"SIGLEC1","c":34,"v":-0.3},{"g":"SIGLEC1","c":35,"v":-0.1},{"g":"SIGLEC1","c":36,"v":0.6},{"g":"SIGLEC1","c":37,"v":0.3},{"g":"SIGLEC1","c":38,"v":0.4},{"g":"SIGLEC1","c":39,"v":-1.6},{"g":"SIGLEC1","c":40,"v":-1.6},{"g":"SIGLEC1","c":41,"v":-1.4},{"g":"SIGLEC1","c":42,"v":-0.4},{"g":"SIGLEC1","c":43,"v":-0.4},{"g":"SIGLEC1","c":44,"v":-0.4},{"g":"SIGLEC1","c":45,"v":-1},{"g":"SIGLEC1","c":46,"v":-0.4},{"g":"SIGLEC1","c":47,"v":-0.5},{"g":"SIGLEC1","c":48,"v":0.1},{"g":"SIGLEC1","c":49,"v":0.1},{"g":"SIGLEC1","c":50,"v":2.9},{"g":"SIGLEC1","c":51,"v":3},{"g":"SIGLEC1","c":52,"v":0.7},{"g":"SIGLEC1","c":53,"v":1.5},{"g":"SIGLEC1","c":54,"v":2.3},{"g":"SIGLEC1","c":55,"v":0.8},{"g":"SIGLEC1","c":56,"v":-1.6},{"g":"SIGLEC1","c":57,"v":-0.2},{"g":"SIGLEC1","c":58,"v":0.3},{"g":"SIGLEC1","c":59,"v":-0.1},{"g":"SIGLEC1","c":60,"v":1.5},{"g":"SIGLEC1","c":61,"v":0.6},{"g":"SIGLEC1","c":62,"v":1.1},{"g":"SIGLEC1","c":63,"v":1.2},{"g":"SIGLEC1","c":64,"v":0.2},{"g":"SIGLEC1","c":65,"v":-0.1},{"g":"SIGLEC1","c":66,"v":-0.4},{"g":"SIGLEC1","c":67,"v":-0.1},{"g":"SIGLEC1","c":68,"v":1.3},{"g":"SIGLEC1","c":69,"v":0.6},{"g":"SIGLEC1","c":70,"v":1.5},{"g":"SIGLEC1","c":71,"v":1.9},{"g":"SIGLEC1","c":72,"v":0.3},{"g":"SIGLEC1","c":73,"v":0.3},{"g":"SIGLEC1","c":74,"v":0.6},{"g":"SIGLEC1","c":75,"v":-0.8},{"g":"SIGLEC1","c":76,"v":-0.4},{"g":"SIGLEC1","c":77,"v":-0.6},
{"g":"TAP2","c":0,"v":-1},{"g":"TAP2","c":1,"v":-0.5},{"g":"TAP2","c":2,"v":-0.2},{"g":"TAP2","c":3,"v":-0.2},{"g":"TAP2","c":4,"v":-0.6},{"g":"TAP2","c":5,"v":-0.1},{"g":"TAP2","c":6,"v":-0.7},{"g":"TAP2","c":7,"v":-0.7},{"g":"TAP2","c":8,"v":-0.5},{"g":"TAP2","c":9,"v":-0.2},{"g":"TAP2","c":10,"v":-0.5},{"g":"TAP2","c":11,"v":-0.3},{"g":"TAP2","c":12,"v":-0.6},{"g":"TAP2","c":13,"v":-0.9},{"g":"TAP2","c":14,"v":-1.3},{"g":"TAP2","c":15,"v":-1.6},{"g":"TAP2","c":16,"v":-1.5},{"g":"TAP2","c":17,"v":-1.2},{"g":"TAP2","c":18,"v":-1.6},{"g":"TAP2","c":19,"v":-1.7},{"g":"TAP2","c":20,"v":-1.6},{"g":"TAP2","c":21,"v":-1.4},{"g":"TAP2","c":22,"v":-1.3},{"g":"TAP2","c":23,"v":-1.6},{"g":"TAP2","c":24,"v":-1.2},{"g":"TAP2","c":25,"v":-1.2},{"g":"TAP2","c":26,"v":-1.1},{"g":"TAP2","c":27,"v":0.5},{"g":"TAP2","c":28,"v":-1.8},{"g":"TAP2","c":29,"v":0.2},{"g":"TAP2","c":30,"v":0.3},{"g":"TAP2","c":31,"v":0.3},{"g":"TAP2","c":32,"v":0.4},{"g":"TAP2","c":33,"v":0.4},{"g":"TAP2","c":34,"v":0.5},{"g":"TAP2","c":35,"v":0.9},{"g":"TAP2","c":36,"v":1},{"g":"TAP2","c":37,"v":1},{"g":"TAP2","c":38,"v":0.5},{"g":"TAP2","c":39,"v":0.3},{"g":"TAP2","c":40,"v":-0.1},{"g":"TAP2","c":41,"v":-1.8},{"g":"TAP2","c":42,"v":-1.9},{"g":"TAP2","c":43,"v":-0.6},{"g":"TAP2","c":44,"v":-0.4},{"g":"TAP2","c":45,"v":-0.3},{"g":"TAP2","c":46,"v":-0.4},{"g":"TAP2","c":47,"v":-0.4},{"g":"TAP2","c":48,"v":-0.8},{"g":"TAP2","c":49,"v":0},{"g":"TAP2","c":50,"v":2},{"g":"TAP2","c":51,"v":2.1},{"g":"TAP2","c":52,"v":2.4},{"g":"TAP2","c":53,"v":1.1},{"g":"TAP2","c":54,"v":1},{"g":"TAP2","c":55,"v":0.9},{"g":"TAP2","c":56,"v":0.9},{"g":"TAP2","c":57,"v":0.1},{"g":"TAP2","c":58,"v":0.7},{"g":"TAP2","c":59,"v":0.8},{"g":"TAP2","c":60,"v":0.7},{"g":"TAP2","c":61,"v":0.7},{"g":"TAP2","c":62,"v":0.5},{"g":"TAP2","c":63,"v":1.8},{"g":"TAP2","c":64,"v":0.5},{"g":"TAP2","c":65,"v":0.2},{"g":"TAP2","c":66,"v":0.4},{"g":"TAP2","c":67,"v":-0.6},{"g":"TAP2","c":68,"v":1.8},{"g":"TAP2","c":69,"v":0.6},{"g":"TAP2","c":70,"v":0.6},{"g":"TAP2","c":71,"v":0.4},{"g":"TAP2","c":72,"v":-0.5},{"g":"TAP2","c":73,"v":0.9},{"g":"TAP2","c":74,"v":0.9},{"g":"TAP2","c":75,"v":0.8},{"g":"TAP2","c":76,"v":0.4},{"g":"TAP2","c":77,"v":0.3}
]
},
"vconcat":[
{"hconcat":[
{"width":78,"height":285,"data":{"values":[{}]},"mark":{"type":"text","text":"A","fontSize":24,"align":"left","baseline":"alphabetic"},"encoding":{"x":{"datum":1,"type":"quantitative","scale":{"domain":[0,78],"nice":false},"axis":null},"y":{"datum":18,"type":"quantitative","scale":{"domain":[285,0],"nice":false},"axis":null}}},
{"width":356,"height":285,
"layer":[
{"data":{"values":[{"x":-3},{"x":-2},{"x":-1},{"x":0},{"x":1},{"x":2}]},"mark":{"type":"rule","color":"#eeeeee","strokeWidth":1},"encoding":{"x":{"field":"x","type":"quantitative","scale":{"domain":[-3.386,2.86],"nice":false,"zero":false}},"y":{"datum":-0.45,"type":"quantitative","scale":{"domain":[-0.45,9.63],"range":[285,37],"nice":false,"zero":false}},"y2":{"datum":9.63}}},
{"data":{"values":[{"y":0},{"y":1.25},{"y":2.5},{"y":3.75},{"y":5},{"y":6.25},{"y":7.5},{"y":8.75}]},"mark":{"type":"rule","color":"#eeeeee","strokeWidth":1},"encoding":{"y":{"field":"y","type":"quantitative"},"x":{"datum":-3.386,"type":"quantitative"},"x2":{"datum":2.86}}},
{"data":{"name":"pts"},"mark":{"type":"circle","size":5,"opacity":0.55},"encoding":{
"x":{"field":"x","type":"quantitative","axis":{"title":"Log₂ fold change","titleFontSize":7.5,"titleColor":"#222","titleFontWeight":"normal","titlePadding":1,"values":[-2,0,2],"format":"d","labelFontSize":7,"labelColor":"#555","ticks":false,"labelPadding":2,"domainColor":"#333","domainWidth":1,"grid":false}},
"y":{"field":"y","type":"quantitative","axis":{"title":"−Log₁₀ P","titleFontSize":7.5,"titleColor":"#222","titleFontWeight":"normal","titlePadding":5,"values":[0,2.5,5,7.5],"format":".1f","labelFontSize":7,"labelColor":"#555","ticks":false,"labelPadding":4,"domainColor":"#333","domainWidth":1,"grid":false}},
"color":{"field":"k","type":"nominal","scale":{"domain":["NS","NS & FC","P−value","P−value & FC"],"range":["#4d4d4d","#2e9a2e","#4169e1","#ee1111"]},"legend":{"title":null,"orient":"none","direction":"horizontal","legendX":224,"legendY":15,"symbolType":"circle","symbolSize":18,"symbolOpacity":0.55,"labelFontSize":6.5,"labelColor":"#333","columnPadding":5,"labelOffset":3}}}},
{"data":{"values":[{"x":-0.5},{"x":0.5}]},"mark":{"type":"rule","color":"#444","strokeWidth":0.6,"strokeDash":[2.5,1.5]},"encoding":{"x":{"field":"x","type":"quantitative"},"y":{"datum":-0.45,"type":"quantitative"},"y2":{"datum":9.63}}},
{"data":{"values":[{"y":1.3}]},"mark":{"type":"rule","color":"#777","strokeWidth":0.9,"strokeDash":[2,1]},"encoding":{"y":{"field":"y","type":"quantitative"},"x":{"datum":-3.386,"type":"quantitative"},"x2":{"datum":2.86}}},
{"data":{"name":"genes"},"mark":{"type":"text","fontSize":6,"color":"#333"},"encoding":{"x":{"field":"x","type":"quantitative"},"y":{"field":"y","type":"quantitative"},"text":{"field":"t"}}},
{"data":{"values":[{}]},"mark":{"type":"text","text":"Class V LN vs MN","font":"Lato","fontSize":16.2,"color":"#111","align":"left","baseline":"alphabetic"},"encoding":{"x":{"datum":-3.4,"type":"quantitative"},"y":{"datum":10.37,"type":"quantitative"}}}
]},
{"width":295,"height":285,"layer":[
{"data":{"values":[{}]},"mark":{"type":"text","text":"B","fontSize":24,"align":"left","baseline":"alphabetic"},"encoding":{"x":{"datum":478,"type":"quantitative","scale":{"domain":[434,729],"nice":false,"zero":false},"axis":null},"y":{"datum":18,"type":"quantitative","scale":{"domain":[285,0],"nice":false,"zero":false},"axis":null}}},
{"data":{"name":"edges"},"transform":[{"lookup":"s","from":{"data":{"name":"nodes"},"key":"id","fields":["x","y"]},"as":["x1","y1"]},{"lookup":"t","from":{"data":{"name":"nodes"},"key":"id","fields":["x","y"]},"as":["x2b","y2b"]}],"mark":{"type":"rule","color":"#4c5582","strokeWidth":1.1,"opacity":0.8},"encoding":{"x":{"field":"x1","type":"quantitative","axis":null},"y":{"field":"y1","type":"quantitative","axis":null},"x2":{"field":"x2b"},"y2":{"field":"y2b"}}},
{"data":{"name":"nodes"},"transform":[{"filter":"datum.k=='r'"}],"mark":{"type":"point","filled":true,"size":200,"opacity":1,"stroke":"#a86068","strokeWidth":0.6,"fill":{"gradient":"radial","x1":0.5,"y1":0.35,"r1":0,"x2":0.5,"y2":0.5,"r2":0.55,"stops":[{"offset":0,"color":"#ee9ea2"},{"offset":0.55,"color":"#d9606a"},{"offset":1,"color":"#b04e58"}]}},"encoding":{"x":{"field":"x","type":"quantitative","axis":null},"y":{"field":"y","type":"quantitative","axis":null}}},
{"data":{"name":"nodes"},"transform":[{"filter":"datum.k=='y'"}],"mark":{"type":"point","filled":true,"size":200,"opacity":1,"stroke":"#a88c50","strokeWidth":0.6,"fill":{"gradient":"radial","x1":0.5,"y1":0.35,"r1":0,"x2":0.5,"y2":0.5,"r2":0.55,"stops":[{"offset":0,"color":"#f2dca6"},{"offset":0.55,"color":"#dcb568"},{"offset":1,"color":"#b89550"}]}},"encoding":{"x":{"field":"x","type":"quantitative","axis":null},"y":{"field":"y","type":"quantitative","axis":null}}},
{"data":{"name":"nodes"},"transform":[{"filter":"datum.k=='w'"}],"mark":{"type":"point","filled":true,"size":200,"opacity":1,"stroke":"#aaaaaa","strokeWidth":0.6,"fill":{"gradient":"radial","x1":0.5,"y1":0.35,"r1":0,"x2":0.5,"y2":0.5,"r2":0.55,"stops":[{"offset":0,"color":"#f5f5f5"},{"offset":0.6,"color":"#dddddd"},{"offset":1,"color":"#bbbbbb"}]}},"encoding":{"x":{"field":"x","type":"quantitative","axis":null},"y":{"field":"y","type":"quantitative","axis":null}}},
{"data":{"name":"nodes"},"mark":{"type":"text","fontSize":4.8,"color":"#555","align":"left","dx":7,"dy":-8},"encoding":{"x":{"field":"x","type":"quantitative","axis":null},"y":{"field":"y","type":"quantitative","axis":null},"text":{"field":"id"}}}
]}
],"spacing":0,"bounds":"flush"},
{"hconcat":[
{"width":107,"height":491,"layer":[
{"data":{"values":[{}]},"mark":{"type":"text","text":"C","fontSize":24,"align":"left","baseline":"alphabetic"},"encoding":{"x":{"datum":106,"type":"quantitative","scale":{"domain":[107,0],"nice":false},"axis":null},"y":{"datum":-1.95,"type":"quantitative","scale":{"domain":[0,17],"range":[64,466],"nice":false},"axis":null}}},
{"data":{"name":"left"},"mark":{"type":"rule","color":"#777","strokeWidth":0.8},"encoding":{"x":{"field":"d","type":"quantitative","axis":null},"y":{"field":"a","type":"quantitative","axis":null},"y2":{"field":"b"}}},
{"data":{"name":"left"},"mark":{"type":"rule","color":"#777","strokeWidth":0.8},"encoding":{"x":{"field":"da","type":"quantitative","axis":null},"x2":{"field":"d"},"y":{"field":"a","type":"quantitative","axis":null}}},
{"data":{"name":"left"},"mark":{"type":"rule","color":"#777","strokeWidth":0.8},"encoding":{"x":{"field":"db","type":"quantitative","axis":null},"x2":{"field":"d"},"y":{"field":"b","type":"quantitative","axis":null}}}
]},
{"vconcat":[
{"width":417,"height":31,"data":{"name":"top"},"layer":[
{"mark":{"type":"rule","color":"#777","strokeWidth":0.8},"encoding":{"x":{"field":"a","type":"quantitative","scale":{"domain":[0,78],"nice":false},"axis":null},"x2":{"field":"b"},"y":{"field":"h","type":"quantitative","scale":{"domain":[0,31],"nice":false},"axis":null}}},
{"mark":{"type":"rule","color":"#777","strokeWidth":0.8},"encoding":{"x":{"field":"a","type":"quantitative","axis":null},"y":{"field":"ha","type":"quantitative","axis":null},"y2":{"field":"h"}}},
{"mark":{"type":"rule","color":"#777","strokeWidth":0.8},"encoding":{"x":{"field":"b","type":"quantitative","axis":null},"y":{"field":"hb","type":"quantitative","axis":null},"y2":{"field":"h"}}}
]},
{"width":417,"height":33,"data":{"name":"samples"},
"layer":[
{"mark":{"type":"rect","stroke":"#a8a8a8","strokeWidth":0.3},"encoding":{"x":{"field":"c","type":"ordinal","sort":"ascending","axis":null,"scale":{"paddingInner":0,"paddingOuter":0}},"y":{"datum":"DIAGNOSIS","type":"nominal","scale":{"domain":["DIAGNOSIS","CLASS","IFN_STATUS","TRI"],"paddingInner":0.08,"paddingOuter":0.02},"axis":{"orient":"right","title":null,"domain":false,"ticks":false,"labelFontSize":6.8,"labelFontWeight":"bold","labelColor":"#111","labelPadding":0}},"fill":{"field":"D","type":"nominal","scale":{"domain":["LN","MN","TBM"],"range":["#ffa500","#000000","#bebebe"]},"legend":{"title":"DIAGNOSIS","orient":"none","legendX":484,"legendY":-2,"titleFontSize":7,"titleFontWeight":"bold","titleColor":"#111","titlePadding":2,"labelFontSize":7,"labelColor":"#555","symbolType":"square","symbolSize":90,"symbolStrokeColor":"#999","symbolStrokeWidth":0.4,"rowPadding":0,"clipHeight":10,"labelOffset":1.5}}}},
{"mark":{"type":"rect","stroke":"#a8a8a8","strokeWidth":0.3},"encoding":{"x":{"field":"c","type":"ordinal","sort":"ascending","axis":null},"y":{"datum":"CLASS","type":"nominal"},"fill":{"field":"C","type":"nominal","scale":{"domain":["Class III LN","Class IV LN","Class V LN","MN","TBM"],"range":["#0000ff","#00ff00","#ff0000","#000000","#bebebe"]},"legend":{"title":"CLASS","orient":"none","legendX":484,"legendY":43,"titleFontSize":7,"titleFontWeight":"bold","titleColor":"#111","titlePadding":2,"labelFontSize":7,"labelColor":"#555","symbolType":"square","symbolSize":90,"symbolStrokeColor":"#999","symbolStrokeWidth":0.4,"rowPadding":0,"clipHeight":10,"labelOffset":1.5}}}},
{"mark":{"type":"rect","stroke":"#a8a8a8","strokeWidth":0.3},"encoding":{"x":{"field":"c","type":"ordinal","sort":"ascending","axis":null},"y":{"datum":"IFN_STATUS","type":"nominal"},"fill":{"field":"I","type":"nominal","scale":{"domain":["HIGH","LOW","NEGATIVE","UNKNOWN"],"range":["#ff0000","#0000ff","#ffffff","#bebebe"]},"legend":{"title":"IFN_STATUS","orient":"none","legendX":484,"legendY":108,"titleFontSize":7,"titleFontWeight":"bold","titleColor":"#111","titlePadding":2,"labelFontSize":7,"labelColor":"#555","symbolType":"square","symbolSize":90,"symbolStrokeColor":"#999","symbolStrokeWidth":0.4,"rowPadding":0,"clipHeight":10,"labelOffset":1.5}}}},
{"mark":{"type":"rect","stroke":"#a8a8a8","strokeWidth":0.3},"encoding":{"x":{"field":"c","type":"ordinal","sort":"ascending","axis":null},"y":{"datum":"TRI","type":"nominal"},"fill":{"field":"T","type":"nominal","scale":{"domain":["POSITIVE","NEGATIVE","UNKNOWN"],"range":["#ff0000","#0000ff","#ffffff"]},"legend":{"title":"TRI","orient":"none","legendX":484,"legendY":163,"titleFontSize":7,"titleFontWeight":"bold","titleColor":"#111","titlePadding":2,"labelFontSize":7,"labelColor":"#555","symbolType":"square","symbolSize":90,"symbolStrokeColor":"#999","symbolStrokeWidth":0.4,"rowPadding":0,"clipHeight":10,"labelOffset":1.5}}}}
],"resolve":{"scale":{"fill":"independent"},"legend":{"fill":"independent"}}},
{"width":417,"height":402,"data":{"name":"heat"},"mark":{"type":"rect","stroke":"#9c9c9c","strokeWidth":0.5},"encoding":{"x":{"field":"c","type":"ordinal","sort":"ascending","axis":null,"scale":{"paddingInner":0,"paddingOuter":0}},"y":{"field":"g","type":"nominal","scale":{"domain":["IFIT2","BST2","IFIH1","IRF7","IFI35","IFIT1","DDX58","MX2","OAS3","ISG15","MX1","PSMB8","IFI27","STAT1","STAT2","SIGLEC1","TAP2"],"paddingInner":0,"paddingOuter":0},"axis":{"orient":"right","title":null,"domain":false,"ticks":false,"labelFontSize":7,"labelColor":"#555","labelPadding":0}},"color":{"field":"v","type":"quantitative","scale":{"scheme":"viridis","domain":[-5.1,3.4],"nice":false},"legend":{"title":null,"orient":"none","legendX":571,"legendY":31,"gradientLength":87,"gradientThickness":6,"values":[-4,-2,0,2],"labelFontSize":7,"labelColor":"#555","labelOffset":2,"gradientStrokeWidth":0}}}},
{"width":417,"height":25,"data":{"values":[{"from":0.4,"to":28.4,"mid":14.2,"t":"IFN-negative cluster"},{"from":29.5,"to":77.5,"mid":54,"t":"IFN-positive cluster"}]},"layer":[
{"mark":{"type":"rule","color":"#333","strokeWidth":0.8},"encoding":{"x":{"field":"from","type":"quantitative","scale":{"domain":[0,78],"nice":false},"axis":null},"x2":{"field":"to"},"y":{"datum":10,"type":"quantitative","scale":{"domain":[0,25],"reverse":true,"nice":false},"axis":null}}},
{"mark":{"type":"rule","color":"#333","strokeWidth":0.8},"encoding":{"x":{"field":"from","type":"quantitative","axis":null},"y":{"datum":1,"type":"quantitative","axis":null},"y2":{"datum":10}}},
{"mark":{"type":"rule","color":"#333","strokeWidth":0.8},"encoding":{"x":{"field":"to","type":"quantitative","axis":null},"y":{"datum":1,"type":"quantitative","axis":null},"y2":{"datum":10}}},
{"mark":{"type":"text","font":"Lato","fontSize":12.2,"color":"#222"},"encoding":{"x":{"field":"mid","type":"quantitative","axis":null},"y":{"datum":19,"type":"quantitative","axis":null},"text":{"field":"t"}}}
]}
],"spacing":0,"bounds":"flush"}
],"spacing":0}
]}
